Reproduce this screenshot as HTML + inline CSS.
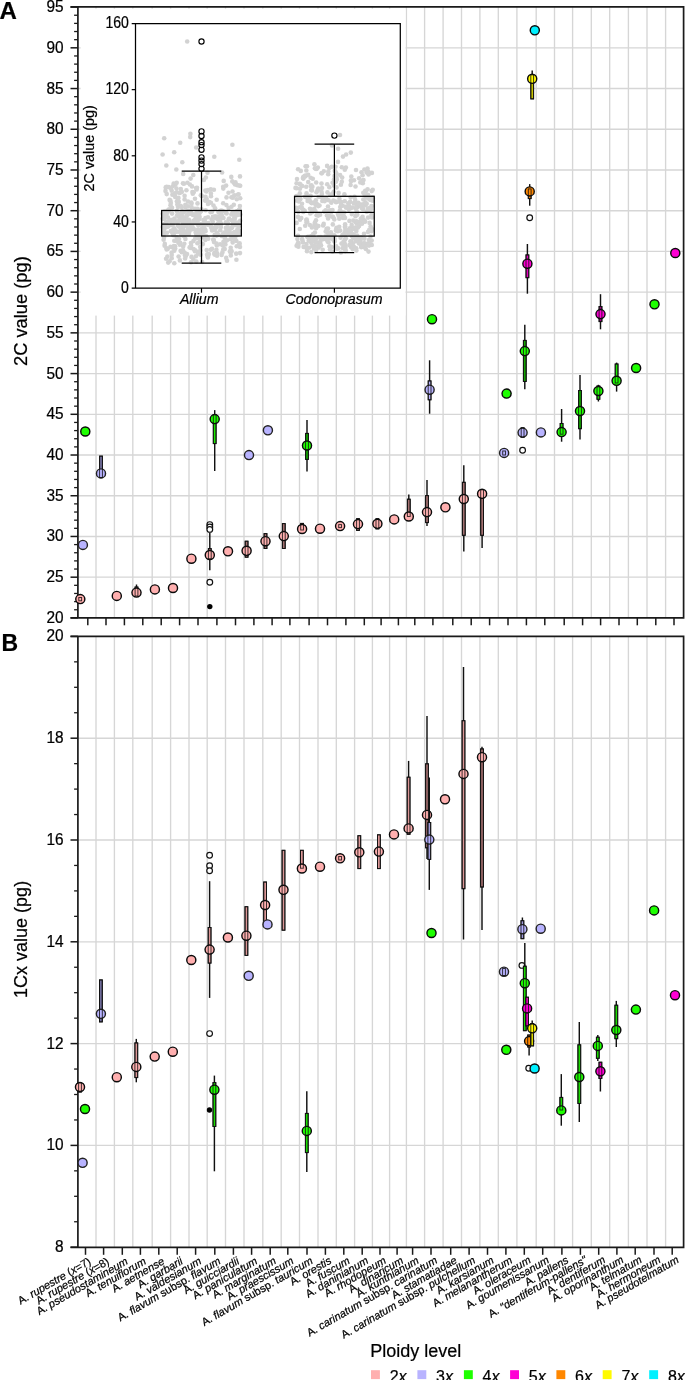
<!DOCTYPE html>
<html><head><meta charset="utf-8"><style>
html,body{margin:0;padding:0;background:#fff;}
body{width:685px;height:1380px;overflow:hidden;}
svg{display:block;will-change:transform;}
</style></head><body>
<svg width="685" height="1380" viewBox="0 0 685 1380">
<style>text{font-family:"Liberation Sans",sans-serif;fill:#000;stroke:#000;stroke-width:0.22px}.tl{font-size:15.9px}.ti{font-size:15.8px}.xl{font-size:11px;font-style:italic}.up{font-style:normal}</style>
<rect width="685" height="1380" fill="#fff"/>
<line x1="96.0" y1="6.8" x2="96.0" y2="617.9" stroke="#d6d6d6" stroke-width="1.35"/>
<line x1="114.4" y1="6.8" x2="114.4" y2="617.9" stroke="#d6d6d6" stroke-width="1.35"/>
<line x1="132.8" y1="6.8" x2="132.8" y2="617.9" stroke="#d6d6d6" stroke-width="1.35"/>
<line x1="152.2" y1="6.8" x2="152.2" y2="617.9" stroke="#d6d6d6" stroke-width="1.35"/>
<line x1="170.6" y1="6.8" x2="170.6" y2="617.9" stroke="#d6d6d6" stroke-width="1.35"/>
<line x1="189.0" y1="6.8" x2="189.0" y2="617.9" stroke="#d6d6d6" stroke-width="1.35"/>
<line x1="207.2" y1="6.8" x2="207.2" y2="617.9" stroke="#d6d6d6" stroke-width="1.35"/>
<line x1="225.5" y1="6.8" x2="225.5" y2="617.9" stroke="#d6d6d6" stroke-width="1.35"/>
<line x1="244.0" y1="6.8" x2="244.0" y2="617.9" stroke="#d6d6d6" stroke-width="1.35"/>
<line x1="262.8" y1="6.8" x2="262.8" y2="617.9" stroke="#d6d6d6" stroke-width="1.35"/>
<line x1="281.2" y1="6.8" x2="281.2" y2="617.9" stroke="#d6d6d6" stroke-width="1.35"/>
<line x1="299.5" y1="6.8" x2="299.5" y2="617.9" stroke="#d6d6d6" stroke-width="1.35"/>
<line x1="318.0" y1="6.8" x2="318.0" y2="617.9" stroke="#d6d6d6" stroke-width="1.35"/>
<line x1="336.3" y1="6.8" x2="336.3" y2="617.9" stroke="#d6d6d6" stroke-width="1.35"/>
<line x1="354.6" y1="6.8" x2="354.6" y2="617.9" stroke="#d6d6d6" stroke-width="1.35"/>
<line x1="372.4" y1="6.8" x2="372.4" y2="617.9" stroke="#d6d6d6" stroke-width="1.35"/>
<line x1="389.6" y1="6.8" x2="389.6" y2="617.9" stroke="#d6d6d6" stroke-width="1.35"/>
<line x1="406.4" y1="6.8" x2="406.4" y2="617.9" stroke="#d6d6d6" stroke-width="1.35"/>
<line x1="424.6" y1="6.8" x2="424.6" y2="617.9" stroke="#d6d6d6" stroke-width="1.35"/>
<line x1="443.1" y1="6.8" x2="443.1" y2="617.9" stroke="#d6d6d6" stroke-width="1.35"/>
<line x1="461.5" y1="6.8" x2="461.5" y2="617.9" stroke="#d6d6d6" stroke-width="1.35"/>
<line x1="479.9" y1="6.8" x2="479.9" y2="617.9" stroke="#d6d6d6" stroke-width="1.35"/>
<line x1="498.3" y1="6.8" x2="498.3" y2="617.9" stroke="#d6d6d6" stroke-width="1.35"/>
<line x1="516.9" y1="6.8" x2="516.9" y2="617.9" stroke="#d6d6d6" stroke-width="1.35"/>
<line x1="536.2" y1="6.8" x2="536.2" y2="617.9" stroke="#d6d6d6" stroke-width="1.35"/>
<line x1="554.5" y1="6.8" x2="554.5" y2="617.9" stroke="#d6d6d6" stroke-width="1.35"/>
<line x1="572.6" y1="6.8" x2="572.6" y2="617.9" stroke="#d6d6d6" stroke-width="1.35"/>
<line x1="591.3" y1="6.8" x2="591.3" y2="617.9" stroke="#d6d6d6" stroke-width="1.35"/>
<line x1="609.7" y1="6.8" x2="609.7" y2="617.9" stroke="#d6d6d6" stroke-width="1.35"/>
<line x1="628.4" y1="6.8" x2="628.4" y2="617.9" stroke="#d6d6d6" stroke-width="1.35"/>
<line x1="647.0" y1="6.8" x2="647.0" y2="617.9" stroke="#d6d6d6" stroke-width="1.35"/>
<line x1="665.6" y1="6.8" x2="665.6" y2="617.9" stroke="#d6d6d6" stroke-width="1.35"/>
<line x1="77.9" y1="577.18" x2="683.6" y2="577.18" stroke="#d6d6d6" stroke-width="1.35"/>
<line x1="77.9" y1="536.46" x2="683.6" y2="536.46" stroke="#d6d6d6" stroke-width="1.35"/>
<line x1="77.9" y1="495.74" x2="683.6" y2="495.74" stroke="#d6d6d6" stroke-width="1.35"/>
<line x1="77.9" y1="455.02" x2="683.6" y2="455.02" stroke="#d6d6d6" stroke-width="1.35"/>
<line x1="77.9" y1="414.30" x2="683.6" y2="414.30" stroke="#d6d6d6" stroke-width="1.35"/>
<line x1="77.9" y1="373.58" x2="683.6" y2="373.58" stroke="#d6d6d6" stroke-width="1.35"/>
<line x1="77.9" y1="332.86" x2="683.6" y2="332.86" stroke="#d6d6d6" stroke-width="1.35"/>
<line x1="77.9" y1="292.14" x2="683.6" y2="292.14" stroke="#d6d6d6" stroke-width="1.35"/>
<line x1="77.9" y1="251.42" x2="683.6" y2="251.42" stroke="#d6d6d6" stroke-width="1.35"/>
<line x1="77.9" y1="210.70" x2="683.6" y2="210.70" stroke="#d6d6d6" stroke-width="1.35"/>
<line x1="77.9" y1="169.98" x2="683.6" y2="169.98" stroke="#d6d6d6" stroke-width="1.35"/>
<line x1="77.9" y1="129.26" x2="683.6" y2="129.26" stroke="#d6d6d6" stroke-width="1.35"/>
<line x1="77.9" y1="88.54" x2="683.6" y2="88.54" stroke="#d6d6d6" stroke-width="1.35"/>
<line x1="77.9" y1="47.82" x2="683.6" y2="47.82" stroke="#d6d6d6" stroke-width="1.35"/>
<rect x="80.6" y="8.6" width="324.9" height="307" fill="#fff"/>
<circle cx="174.3" cy="263.2" r="2.3" fill="#d2d2d2"/>
<circle cx="168.2" cy="262.6" r="2.3" fill="#d2d2d2"/>
<circle cx="191.0" cy="262.3" r="2.3" fill="#d2d2d2"/>
<circle cx="202.1" cy="262.0" r="2.3" fill="#d2d2d2"/>
<circle cx="196.3" cy="261.6" r="2.3" fill="#d2d2d2"/>
<circle cx="169.6" cy="261.2" r="2.3" fill="#d2d2d2"/>
<circle cx="227.0" cy="260.7" r="2.3" fill="#d2d2d2"/>
<circle cx="179.9" cy="260.4" r="2.3" fill="#d2d2d2"/>
<circle cx="236.4" cy="259.8" r="2.3" fill="#d2d2d2"/>
<circle cx="193.4" cy="259.4" r="2.3" fill="#d2d2d2"/>
<circle cx="166.1" cy="258.8" r="2.3" fill="#d2d2d2"/>
<circle cx="185.1" cy="258.5" r="2.3" fill="#d2d2d2"/>
<circle cx="171.7" cy="258.3" r="2.3" fill="#d2d2d2"/>
<circle cx="226.2" cy="257.9" r="2.3" fill="#d2d2d2"/>
<circle cx="207.9" cy="257.5" r="2.3" fill="#d2d2d2"/>
<circle cx="191.5" cy="256.9" r="2.3" fill="#d2d2d2"/>
<circle cx="167.4" cy="256.6" r="2.3" fill="#d2d2d2"/>
<circle cx="178.6" cy="256.5" r="2.3" fill="#d2d2d2"/>
<circle cx="195.9" cy="256.2" r="2.3" fill="#d2d2d2"/>
<circle cx="208.2" cy="256.1" r="2.3" fill="#d2d2d2"/>
<circle cx="185.9" cy="255.9" r="2.3" fill="#d2d2d2"/>
<circle cx="217.0" cy="255.7" r="2.3" fill="#d2d2d2"/>
<circle cx="207.3" cy="255.6" r="2.3" fill="#d2d2d2"/>
<circle cx="230.8" cy="255.4" r="2.3" fill="#d2d2d2"/>
<circle cx="185.0" cy="255.2" r="2.3" fill="#d2d2d2"/>
<circle cx="171.7" cy="255.0" r="2.3" fill="#d2d2d2"/>
<circle cx="221.6" cy="254.9" r="2.3" fill="#d2d2d2"/>
<circle cx="200.6" cy="254.8" r="2.3" fill="#d2d2d2"/>
<circle cx="214.6" cy="254.6" r="2.3" fill="#d2d2d2"/>
<circle cx="207.2" cy="254.3" r="2.3" fill="#d2d2d2"/>
<circle cx="187.0" cy="254.1" r="2.3" fill="#d2d2d2"/>
<circle cx="208.9" cy="254.0" r="2.3" fill="#d2d2d2"/>
<circle cx="198.1" cy="253.8" r="2.3" fill="#d2d2d2"/>
<circle cx="236.2" cy="253.6" r="2.3" fill="#d2d2d2"/>
<circle cx="214.3" cy="253.5" r="2.3" fill="#d2d2d2"/>
<circle cx="217.2" cy="253.4" r="2.3" fill="#d2d2d2"/>
<circle cx="240.0" cy="253.1" r="2.3" fill="#d2d2d2"/>
<circle cx="184.7" cy="252.9" r="2.3" fill="#d2d2d2"/>
<circle cx="214.7" cy="252.8" r="2.3" fill="#d2d2d2"/>
<circle cx="198.5" cy="252.7" r="2.3" fill="#d2d2d2"/>
<circle cx="171.6" cy="252.5" r="2.3" fill="#d2d2d2"/>
<circle cx="222.4" cy="252.4" r="2.3" fill="#d2d2d2"/>
<circle cx="181.8" cy="252.2" r="2.3" fill="#d2d2d2"/>
<circle cx="230.5" cy="251.9" r="2.3" fill="#d2d2d2"/>
<circle cx="197.5" cy="251.8" r="2.3" fill="#d2d2d2"/>
<circle cx="231.4" cy="251.6" r="2.3" fill="#d2d2d2"/>
<circle cx="229.9" cy="251.4" r="2.3" fill="#d2d2d2"/>
<circle cx="194.9" cy="251.3" r="2.3" fill="#d2d2d2"/>
<circle cx="231.5" cy="251.1" r="2.3" fill="#d2d2d2"/>
<circle cx="174.3" cy="250.8" r="2.3" fill="#d2d2d2"/>
<circle cx="180.6" cy="250.8" r="2.3" fill="#d2d2d2"/>
<circle cx="200.3" cy="250.6" r="2.3" fill="#d2d2d2"/>
<circle cx="183.0" cy="250.3" r="2.3" fill="#d2d2d2"/>
<circle cx="195.2" cy="250.3" r="2.3" fill="#d2d2d2"/>
<circle cx="206.7" cy="250.0" r="2.3" fill="#d2d2d2"/>
<circle cx="216.4" cy="249.8" r="2.3" fill="#d2d2d2"/>
<circle cx="210.7" cy="249.7" r="2.3" fill="#d2d2d2"/>
<circle cx="166.7" cy="249.5" r="2.3" fill="#d2d2d2"/>
<circle cx="223.3" cy="249.2" r="2.3" fill="#d2d2d2"/>
<circle cx="224.7" cy="249.1" r="2.3" fill="#d2d2d2"/>
<circle cx="193.6" cy="249.0" r="2.3" fill="#d2d2d2"/>
<circle cx="212.0" cy="248.9" r="2.3" fill="#d2d2d2"/>
<circle cx="167.8" cy="248.7" r="2.3" fill="#d2d2d2"/>
<circle cx="175.2" cy="248.5" r="2.3" fill="#d2d2d2"/>
<circle cx="166.6" cy="248.3" r="2.3" fill="#d2d2d2"/>
<circle cx="174.3" cy="248.2" r="2.3" fill="#d2d2d2"/>
<circle cx="190.9" cy="248.0" r="2.3" fill="#d2d2d2"/>
<circle cx="230.7" cy="247.8" r="2.3" fill="#d2d2d2"/>
<circle cx="174.1" cy="247.6" r="2.3" fill="#d2d2d2"/>
<circle cx="189.6" cy="247.4" r="2.3" fill="#d2d2d2"/>
<circle cx="172.1" cy="247.3" r="2.3" fill="#d2d2d2"/>
<circle cx="240.0" cy="247.0" r="2.3" fill="#d2d2d2"/>
<circle cx="200.2" cy="246.9" r="2.3" fill="#d2d2d2"/>
<circle cx="170.5" cy="246.8" r="2.3" fill="#d2d2d2"/>
<circle cx="183.2" cy="246.6" r="2.3" fill="#d2d2d2"/>
<circle cx="175.1" cy="246.3" r="2.3" fill="#d2d2d2"/>
<circle cx="236.7" cy="246.3" r="2.3" fill="#d2d2d2"/>
<circle cx="173.9" cy="246.0" r="2.3" fill="#d2d2d2"/>
<circle cx="164.6" cy="245.8" r="2.3" fill="#d2d2d2"/>
<circle cx="238.8" cy="245.7" r="2.3" fill="#d2d2d2"/>
<circle cx="216.8" cy="245.4" r="2.3" fill="#d2d2d2"/>
<circle cx="191.1" cy="245.4" r="2.3" fill="#d2d2d2"/>
<circle cx="222.7" cy="245.2" r="2.3" fill="#d2d2d2"/>
<circle cx="223.3" cy="245.0" r="2.3" fill="#d2d2d2"/>
<circle cx="179.9" cy="244.8" r="2.3" fill="#d2d2d2"/>
<circle cx="239.3" cy="244.6" r="2.3" fill="#d2d2d2"/>
<circle cx="225.4" cy="244.4" r="2.3" fill="#d2d2d2"/>
<circle cx="220.2" cy="244.2" r="2.3" fill="#d2d2d2"/>
<circle cx="202.9" cy="244.1" r="2.3" fill="#d2d2d2"/>
<circle cx="164.8" cy="243.9" r="2.3" fill="#d2d2d2"/>
<circle cx="184.3" cy="243.8" r="2.3" fill="#d2d2d2"/>
<circle cx="216.5" cy="243.6" r="2.3" fill="#d2d2d2"/>
<circle cx="197.4" cy="243.3" r="2.3" fill="#d2d2d2"/>
<circle cx="239.6" cy="243.2" r="2.3" fill="#d2d2d2"/>
<circle cx="190.9" cy="243.0" r="2.3" fill="#d2d2d2"/>
<circle cx="180.2" cy="242.9" r="2.3" fill="#d2d2d2"/>
<circle cx="178.4" cy="242.8" r="2.3" fill="#d2d2d2"/>
<circle cx="232.7" cy="242.5" r="2.3" fill="#d2d2d2"/>
<circle cx="199.9" cy="242.3" r="2.3" fill="#d2d2d2"/>
<circle cx="224.9" cy="242.2" r="2.3" fill="#d2d2d2"/>
<circle cx="214.0" cy="242.1" r="2.3" fill="#d2d2d2"/>
<circle cx="223.5" cy="241.8" r="2.3" fill="#d2d2d2"/>
<circle cx="199.8" cy="241.6" r="2.3" fill="#d2d2d2"/>
<circle cx="224.1" cy="241.5" r="2.3" fill="#d2d2d2"/>
<circle cx="225.0" cy="241.3" r="2.3" fill="#d2d2d2"/>
<circle cx="193.4" cy="241.1" r="2.3" fill="#d2d2d2"/>
<circle cx="236.4" cy="241.0" r="2.3" fill="#d2d2d2"/>
<circle cx="175.8" cy="240.8" r="2.3" fill="#d2d2d2"/>
<circle cx="174.3" cy="240.7" r="2.3" fill="#d2d2d2"/>
<circle cx="225.4" cy="240.4" r="2.3" fill="#d2d2d2"/>
<circle cx="227.0" cy="240.3" r="2.3" fill="#d2d2d2"/>
<circle cx="213.8" cy="240.0" r="2.3" fill="#d2d2d2"/>
<circle cx="205.3" cy="239.9" r="2.3" fill="#d2d2d2"/>
<circle cx="163.6" cy="239.8" r="2.3" fill="#d2d2d2"/>
<circle cx="213.2" cy="239.5" r="2.3" fill="#d2d2d2"/>
<circle cx="235.3" cy="239.4" r="2.3" fill="#d2d2d2"/>
<circle cx="230.5" cy="239.2" r="2.3" fill="#d2d2d2"/>
<circle cx="179.0" cy="239.0" r="2.3" fill="#d2d2d2"/>
<circle cx="185.4" cy="238.9" r="2.3" fill="#d2d2d2"/>
<circle cx="208.2" cy="238.7" r="2.3" fill="#d2d2d2"/>
<circle cx="195.2" cy="238.6" r="2.3" fill="#d2d2d2"/>
<circle cx="233.5" cy="238.4" r="2.3" fill="#d2d2d2"/>
<circle cx="198.2" cy="238.2" r="2.3" fill="#d2d2d2"/>
<circle cx="233.0" cy="238.0" r="2.3" fill="#d2d2d2"/>
<circle cx="234.1" cy="237.8" r="2.3" fill="#d2d2d2"/>
<circle cx="204.0" cy="237.7" r="2.3" fill="#d2d2d2"/>
<circle cx="164.0" cy="237.5" r="2.3" fill="#d2d2d2"/>
<circle cx="176.8" cy="237.3" r="2.3" fill="#d2d2d2"/>
<circle cx="224.8" cy="237.2" r="2.3" fill="#d2d2d2"/>
<circle cx="199.4" cy="237.0" r="2.3" fill="#d2d2d2"/>
<circle cx="205.9" cy="236.8" r="2.3" fill="#d2d2d2"/>
<circle cx="202.9" cy="236.6" r="2.3" fill="#d2d2d2"/>
<circle cx="223.7" cy="236.4" r="2.3" fill="#d2d2d2"/>
<circle cx="206.2" cy="236.3" r="2.3" fill="#d2d2d2"/>
<circle cx="184.1" cy="236.1" r="2.3" fill="#d2d2d2"/>
<circle cx="202.1" cy="235.9" r="2.3" fill="#d2d2d2"/>
<circle cx="221.8" cy="235.9" r="2.3" fill="#d2d2d2"/>
<circle cx="197.1" cy="235.7" r="2.3" fill="#d2d2d2"/>
<circle cx="201.9" cy="235.7" r="2.3" fill="#d2d2d2"/>
<circle cx="216.5" cy="235.6" r="2.3" fill="#d2d2d2"/>
<circle cx="204.1" cy="235.5" r="2.3" fill="#d2d2d2"/>
<circle cx="235.9" cy="235.4" r="2.3" fill="#d2d2d2"/>
<circle cx="230.9" cy="235.3" r="2.3" fill="#d2d2d2"/>
<circle cx="182.7" cy="235.2" r="2.3" fill="#d2d2d2"/>
<circle cx="236.1" cy="235.2" r="2.3" fill="#d2d2d2"/>
<circle cx="173.2" cy="235.1" r="2.3" fill="#d2d2d2"/>
<circle cx="197.0" cy="235.0" r="2.3" fill="#d2d2d2"/>
<circle cx="181.3" cy="234.9" r="2.3" fill="#d2d2d2"/>
<circle cx="214.7" cy="234.9" r="2.3" fill="#d2d2d2"/>
<circle cx="232.5" cy="234.7" r="2.3" fill="#d2d2d2"/>
<circle cx="218.4" cy="234.7" r="2.3" fill="#d2d2d2"/>
<circle cx="173.7" cy="234.5" r="2.3" fill="#d2d2d2"/>
<circle cx="238.0" cy="234.4" r="2.3" fill="#d2d2d2"/>
<circle cx="236.8" cy="234.4" r="2.3" fill="#d2d2d2"/>
<circle cx="200.5" cy="234.3" r="2.3" fill="#d2d2d2"/>
<circle cx="227.4" cy="234.2" r="2.3" fill="#d2d2d2"/>
<circle cx="196.2" cy="234.1" r="2.3" fill="#d2d2d2"/>
<circle cx="189.0" cy="234.0" r="2.3" fill="#d2d2d2"/>
<circle cx="187.3" cy="234.0" r="2.3" fill="#d2d2d2"/>
<circle cx="164.0" cy="233.8" r="2.3" fill="#d2d2d2"/>
<circle cx="196.9" cy="233.8" r="2.3" fill="#d2d2d2"/>
<circle cx="188.4" cy="233.7" r="2.3" fill="#d2d2d2"/>
<circle cx="202.5" cy="233.6" r="2.3" fill="#d2d2d2"/>
<circle cx="239.3" cy="233.5" r="2.3" fill="#d2d2d2"/>
<circle cx="238.3" cy="233.4" r="2.3" fill="#d2d2d2"/>
<circle cx="183.2" cy="233.4" r="2.3" fill="#d2d2d2"/>
<circle cx="223.3" cy="233.3" r="2.3" fill="#d2d2d2"/>
<circle cx="172.6" cy="233.2" r="2.3" fill="#d2d2d2"/>
<circle cx="233.6" cy="233.1" r="2.3" fill="#d2d2d2"/>
<circle cx="182.7" cy="232.9" r="2.3" fill="#d2d2d2"/>
<circle cx="234.2" cy="232.9" r="2.3" fill="#d2d2d2"/>
<circle cx="217.1" cy="232.8" r="2.3" fill="#d2d2d2"/>
<circle cx="167.0" cy="232.7" r="2.3" fill="#d2d2d2"/>
<circle cx="195.7" cy="232.6" r="2.3" fill="#d2d2d2"/>
<circle cx="235.7" cy="232.6" r="2.3" fill="#d2d2d2"/>
<circle cx="225.0" cy="232.4" r="2.3" fill="#d2d2d2"/>
<circle cx="229.3" cy="232.4" r="2.3" fill="#d2d2d2"/>
<circle cx="229.8" cy="232.3" r="2.3" fill="#d2d2d2"/>
<circle cx="189.0" cy="232.2" r="2.3" fill="#d2d2d2"/>
<circle cx="234.8" cy="232.1" r="2.3" fill="#d2d2d2"/>
<circle cx="172.6" cy="232.0" r="2.3" fill="#d2d2d2"/>
<circle cx="181.1" cy="231.9" r="2.3" fill="#d2d2d2"/>
<circle cx="175.1" cy="231.9" r="2.3" fill="#d2d2d2"/>
<circle cx="178.2" cy="231.8" r="2.3" fill="#d2d2d2"/>
<circle cx="186.3" cy="231.7" r="2.3" fill="#d2d2d2"/>
<circle cx="185.1" cy="231.5" r="2.3" fill="#d2d2d2"/>
<circle cx="176.4" cy="231.5" r="2.3" fill="#d2d2d2"/>
<circle cx="163.9" cy="231.4" r="2.3" fill="#d2d2d2"/>
<circle cx="163.7" cy="231.3" r="2.3" fill="#d2d2d2"/>
<circle cx="205.5" cy="231.2" r="2.3" fill="#d2d2d2"/>
<circle cx="199.5" cy="231.1" r="2.3" fill="#d2d2d2"/>
<circle cx="170.8" cy="231.0" r="2.3" fill="#d2d2d2"/>
<circle cx="196.2" cy="230.9" r="2.3" fill="#d2d2d2"/>
<circle cx="227.6" cy="230.8" r="2.3" fill="#d2d2d2"/>
<circle cx="202.0" cy="230.8" r="2.3" fill="#d2d2d2"/>
<circle cx="239.1" cy="230.7" r="2.3" fill="#d2d2d2"/>
<circle cx="227.4" cy="230.6" r="2.3" fill="#d2d2d2"/>
<circle cx="212.1" cy="230.5" r="2.3" fill="#d2d2d2"/>
<circle cx="189.6" cy="230.4" r="2.3" fill="#d2d2d2"/>
<circle cx="172.6" cy="230.4" r="2.3" fill="#d2d2d2"/>
<circle cx="220.3" cy="230.3" r="2.3" fill="#d2d2d2"/>
<circle cx="175.2" cy="230.2" r="2.3" fill="#d2d2d2"/>
<circle cx="228.1" cy="230.1" r="2.3" fill="#d2d2d2"/>
<circle cx="214.8" cy="229.9" r="2.3" fill="#d2d2d2"/>
<circle cx="181.4" cy="229.9" r="2.3" fill="#d2d2d2"/>
<circle cx="198.3" cy="229.8" r="2.3" fill="#d2d2d2"/>
<circle cx="197.3" cy="229.7" r="2.3" fill="#d2d2d2"/>
<circle cx="237.5" cy="229.6" r="2.3" fill="#d2d2d2"/>
<circle cx="205.2" cy="229.5" r="2.3" fill="#d2d2d2"/>
<circle cx="237.8" cy="229.5" r="2.3" fill="#d2d2d2"/>
<circle cx="190.3" cy="229.4" r="2.3" fill="#d2d2d2"/>
<circle cx="192.3" cy="229.3" r="2.3" fill="#d2d2d2"/>
<circle cx="201.7" cy="229.2" r="2.3" fill="#d2d2d2"/>
<circle cx="201.9" cy="229.1" r="2.3" fill="#d2d2d2"/>
<circle cx="183.1" cy="229.0" r="2.3" fill="#d2d2d2"/>
<circle cx="193.7" cy="228.9" r="2.3" fill="#d2d2d2"/>
<circle cx="164.3" cy="228.9" r="2.3" fill="#d2d2d2"/>
<circle cx="180.7" cy="228.7" r="2.3" fill="#d2d2d2"/>
<circle cx="203.8" cy="228.6" r="2.3" fill="#d2d2d2"/>
<circle cx="213.8" cy="228.5" r="2.3" fill="#d2d2d2"/>
<circle cx="231.1" cy="228.4" r="2.3" fill="#d2d2d2"/>
<circle cx="187.9" cy="228.4" r="2.3" fill="#d2d2d2"/>
<circle cx="174.2" cy="228.2" r="2.3" fill="#d2d2d2"/>
<circle cx="212.7" cy="228.2" r="2.3" fill="#d2d2d2"/>
<circle cx="227.7" cy="228.2" r="2.3" fill="#d2d2d2"/>
<circle cx="211.4" cy="228.0" r="2.3" fill="#d2d2d2"/>
<circle cx="225.9" cy="227.9" r="2.3" fill="#d2d2d2"/>
<circle cx="203.4" cy="227.9" r="2.3" fill="#d2d2d2"/>
<circle cx="227.6" cy="227.8" r="2.3" fill="#d2d2d2"/>
<circle cx="227.0" cy="227.6" r="2.3" fill="#d2d2d2"/>
<circle cx="232.1" cy="227.6" r="2.3" fill="#d2d2d2"/>
<circle cx="216.6" cy="227.5" r="2.3" fill="#d2d2d2"/>
<circle cx="164.9" cy="227.4" r="2.3" fill="#d2d2d2"/>
<circle cx="190.6" cy="227.4" r="2.3" fill="#d2d2d2"/>
<circle cx="227.7" cy="227.3" r="2.3" fill="#d2d2d2"/>
<circle cx="211.5" cy="227.1" r="2.3" fill="#d2d2d2"/>
<circle cx="215.6" cy="227.0" r="2.3" fill="#d2d2d2"/>
<circle cx="162.8" cy="227.0" r="2.3" fill="#d2d2d2"/>
<circle cx="220.9" cy="226.9" r="2.3" fill="#d2d2d2"/>
<circle cx="204.2" cy="226.8" r="2.3" fill="#d2d2d2"/>
<circle cx="167.7" cy="226.7" r="2.3" fill="#d2d2d2"/>
<circle cx="182.2" cy="226.6" r="2.3" fill="#d2d2d2"/>
<circle cx="183.2" cy="226.6" r="2.3" fill="#d2d2d2"/>
<circle cx="178.5" cy="226.4" r="2.3" fill="#d2d2d2"/>
<circle cx="238.6" cy="226.3" r="2.3" fill="#d2d2d2"/>
<circle cx="192.3" cy="226.3" r="2.3" fill="#d2d2d2"/>
<circle cx="215.8" cy="226.2" r="2.3" fill="#d2d2d2"/>
<circle cx="210.6" cy="226.1" r="2.3" fill="#d2d2d2"/>
<circle cx="168.5" cy="226.0" r="2.3" fill="#d2d2d2"/>
<circle cx="182.3" cy="225.9" r="2.3" fill="#d2d2d2"/>
<circle cx="186.2" cy="225.8" r="2.3" fill="#d2d2d2"/>
<circle cx="163.5" cy="225.7" r="2.3" fill="#d2d2d2"/>
<circle cx="183.5" cy="225.7" r="2.3" fill="#d2d2d2"/>
<circle cx="216.5" cy="225.5" r="2.3" fill="#d2d2d2"/>
<circle cx="185.2" cy="225.5" r="2.3" fill="#d2d2d2"/>
<circle cx="198.7" cy="225.4" r="2.3" fill="#d2d2d2"/>
<circle cx="171.7" cy="225.3" r="2.3" fill="#d2d2d2"/>
<circle cx="178.0" cy="225.2" r="2.3" fill="#d2d2d2"/>
<circle cx="235.5" cy="225.1" r="2.3" fill="#d2d2d2"/>
<circle cx="198.3" cy="225.1" r="2.3" fill="#d2d2d2"/>
<circle cx="238.0" cy="224.9" r="2.3" fill="#d2d2d2"/>
<circle cx="183.5" cy="224.9" r="2.3" fill="#d2d2d2"/>
<circle cx="236.3" cy="224.8" r="2.3" fill="#d2d2d2"/>
<circle cx="207.9" cy="224.7" r="2.3" fill="#d2d2d2"/>
<circle cx="203.4" cy="224.6" r="2.3" fill="#d2d2d2"/>
<circle cx="172.8" cy="224.5" r="2.3" fill="#d2d2d2"/>
<circle cx="202.2" cy="224.4" r="2.3" fill="#d2d2d2"/>
<circle cx="217.4" cy="224.3" r="2.3" fill="#d2d2d2"/>
<circle cx="232.5" cy="224.3" r="2.3" fill="#d2d2d2"/>
<circle cx="164.4" cy="224.1" r="2.3" fill="#d2d2d2"/>
<circle cx="200.9" cy="224.1" r="2.3" fill="#d2d2d2"/>
<circle cx="186.1" cy="224.0" r="2.3" fill="#d2d2d2"/>
<circle cx="189.3" cy="223.9" r="2.3" fill="#d2d2d2"/>
<circle cx="228.0" cy="223.8" r="2.3" fill="#d2d2d2"/>
<circle cx="221.1" cy="223.7" r="2.3" fill="#d2d2d2"/>
<circle cx="171.9" cy="223.5" r="2.3" fill="#d2d2d2"/>
<circle cx="218.1" cy="223.4" r="2.3" fill="#d2d2d2"/>
<circle cx="185.1" cy="223.3" r="2.3" fill="#d2d2d2"/>
<circle cx="193.1" cy="223.3" r="2.3" fill="#d2d2d2"/>
<circle cx="208.5" cy="223.1" r="2.3" fill="#d2d2d2"/>
<circle cx="195.9" cy="223.1" r="2.3" fill="#d2d2d2"/>
<circle cx="166.3" cy="223.0" r="2.3" fill="#d2d2d2"/>
<circle cx="227.6" cy="222.9" r="2.3" fill="#d2d2d2"/>
<circle cx="235.5" cy="222.8" r="2.3" fill="#d2d2d2"/>
<circle cx="183.2" cy="222.7" r="2.3" fill="#d2d2d2"/>
<circle cx="177.3" cy="222.5" r="2.3" fill="#d2d2d2"/>
<circle cx="237.1" cy="222.5" r="2.3" fill="#d2d2d2"/>
<circle cx="225.8" cy="222.3" r="2.3" fill="#d2d2d2"/>
<circle cx="233.7" cy="222.2" r="2.3" fill="#d2d2d2"/>
<circle cx="205.3" cy="222.1" r="2.3" fill="#d2d2d2"/>
<circle cx="166.4" cy="222.0" r="2.3" fill="#d2d2d2"/>
<circle cx="197.7" cy="221.9" r="2.3" fill="#d2d2d2"/>
<circle cx="212.8" cy="221.8" r="2.3" fill="#d2d2d2"/>
<circle cx="166.3" cy="221.8" r="2.3" fill="#d2d2d2"/>
<circle cx="172.4" cy="221.6" r="2.3" fill="#d2d2d2"/>
<circle cx="189.3" cy="221.5" r="2.3" fill="#d2d2d2"/>
<circle cx="220.1" cy="221.5" r="2.3" fill="#d2d2d2"/>
<circle cx="182.8" cy="221.3" r="2.3" fill="#d2d2d2"/>
<circle cx="186.0" cy="221.2" r="2.3" fill="#d2d2d2"/>
<circle cx="193.3" cy="221.1" r="2.3" fill="#d2d2d2"/>
<circle cx="175.1" cy="221.1" r="2.3" fill="#d2d2d2"/>
<circle cx="233.2" cy="221.0" r="2.3" fill="#d2d2d2"/>
<circle cx="179.7" cy="220.8" r="2.3" fill="#d2d2d2"/>
<circle cx="240.2" cy="220.7" r="2.3" fill="#d2d2d2"/>
<circle cx="173.4" cy="220.6" r="2.3" fill="#d2d2d2"/>
<circle cx="169.6" cy="220.6" r="2.3" fill="#d2d2d2"/>
<circle cx="169.6" cy="220.4" r="2.3" fill="#d2d2d2"/>
<circle cx="182.7" cy="220.4" r="2.3" fill="#d2d2d2"/>
<circle cx="231.7" cy="220.2" r="2.3" fill="#d2d2d2"/>
<circle cx="194.7" cy="220.1" r="2.3" fill="#d2d2d2"/>
<circle cx="203.4" cy="220.0" r="2.3" fill="#d2d2d2"/>
<circle cx="188.9" cy="219.9" r="2.3" fill="#d2d2d2"/>
<circle cx="184.1" cy="219.9" r="2.3" fill="#d2d2d2"/>
<circle cx="172.3" cy="219.7" r="2.3" fill="#d2d2d2"/>
<circle cx="211.6" cy="219.6" r="2.3" fill="#d2d2d2"/>
<circle cx="179.3" cy="219.5" r="2.3" fill="#d2d2d2"/>
<circle cx="181.9" cy="219.5" r="2.3" fill="#d2d2d2"/>
<circle cx="197.3" cy="219.3" r="2.3" fill="#d2d2d2"/>
<circle cx="228.7" cy="219.2" r="2.3" fill="#d2d2d2"/>
<circle cx="164.2" cy="219.1" r="2.3" fill="#d2d2d2"/>
<circle cx="217.8" cy="219.1" r="2.3" fill="#d2d2d2"/>
<circle cx="199.4" cy="218.9" r="2.3" fill="#d2d2d2"/>
<circle cx="162.5" cy="218.8" r="2.3" fill="#d2d2d2"/>
<circle cx="234.8" cy="218.7" r="2.3" fill="#d2d2d2"/>
<circle cx="229.2" cy="218.6" r="2.3" fill="#d2d2d2"/>
<circle cx="181.9" cy="218.5" r="2.3" fill="#d2d2d2"/>
<circle cx="174.5" cy="218.5" r="2.3" fill="#d2d2d2"/>
<circle cx="215.7" cy="218.3" r="2.3" fill="#d2d2d2"/>
<circle cx="218.8" cy="218.2" r="2.3" fill="#d2d2d2"/>
<circle cx="222.2" cy="218.1" r="2.3" fill="#d2d2d2"/>
<circle cx="205.5" cy="218.0" r="2.3" fill="#d2d2d2"/>
<circle cx="223.5" cy="218.0" r="2.3" fill="#d2d2d2"/>
<circle cx="234.3" cy="217.8" r="2.3" fill="#d2d2d2"/>
<circle cx="186.2" cy="217.7" r="2.3" fill="#d2d2d2"/>
<circle cx="182.1" cy="217.7" r="2.3" fill="#d2d2d2"/>
<circle cx="217.0" cy="217.5" r="2.3" fill="#d2d2d2"/>
<circle cx="168.0" cy="217.5" r="2.3" fill="#d2d2d2"/>
<circle cx="208.0" cy="217.3" r="2.3" fill="#d2d2d2"/>
<circle cx="179.9" cy="217.2" r="2.3" fill="#d2d2d2"/>
<circle cx="163.3" cy="217.1" r="2.3" fill="#d2d2d2"/>
<circle cx="198.4" cy="217.0" r="2.3" fill="#d2d2d2"/>
<circle cx="212.8" cy="216.9" r="2.3" fill="#d2d2d2"/>
<circle cx="199.6" cy="216.8" r="2.3" fill="#d2d2d2"/>
<circle cx="181.8" cy="216.7" r="2.3" fill="#d2d2d2"/>
<circle cx="217.5" cy="216.6" r="2.3" fill="#d2d2d2"/>
<circle cx="164.2" cy="216.5" r="2.3" fill="#d2d2d2"/>
<circle cx="215.1" cy="216.4" r="2.3" fill="#d2d2d2"/>
<circle cx="182.6" cy="216.3" r="2.3" fill="#d2d2d2"/>
<circle cx="234.7" cy="216.2" r="2.3" fill="#d2d2d2"/>
<circle cx="165.2" cy="216.1" r="2.3" fill="#d2d2d2"/>
<circle cx="195.3" cy="216.0" r="2.3" fill="#d2d2d2"/>
<circle cx="178.0" cy="215.9" r="2.3" fill="#d2d2d2"/>
<circle cx="220.2" cy="215.8" r="2.3" fill="#d2d2d2"/>
<circle cx="178.5" cy="215.7" r="2.3" fill="#d2d2d2"/>
<circle cx="186.8" cy="215.6" r="2.3" fill="#d2d2d2"/>
<circle cx="180.5" cy="215.5" r="2.3" fill="#d2d2d2"/>
<circle cx="221.8" cy="215.4" r="2.3" fill="#d2d2d2"/>
<circle cx="236.8" cy="215.3" r="2.3" fill="#d2d2d2"/>
<circle cx="177.1" cy="215.2" r="2.3" fill="#d2d2d2"/>
<circle cx="195.0" cy="215.1" r="2.3" fill="#d2d2d2"/>
<circle cx="236.5" cy="215.0" r="2.3" fill="#d2d2d2"/>
<circle cx="193.2" cy="214.9" r="2.3" fill="#d2d2d2"/>
<circle cx="238.5" cy="214.8" r="2.3" fill="#d2d2d2"/>
<circle cx="166.5" cy="214.7" r="2.3" fill="#d2d2d2"/>
<circle cx="193.2" cy="214.7" r="2.3" fill="#d2d2d2"/>
<circle cx="231.4" cy="214.5" r="2.3" fill="#d2d2d2"/>
<circle cx="240.3" cy="214.4" r="2.3" fill="#d2d2d2"/>
<circle cx="188.2" cy="214.3" r="2.3" fill="#d2d2d2"/>
<circle cx="235.5" cy="214.2" r="2.3" fill="#d2d2d2"/>
<circle cx="165.0" cy="214.1" r="2.3" fill="#d2d2d2"/>
<circle cx="192.0" cy="214.0" r="2.3" fill="#d2d2d2"/>
<circle cx="188.4" cy="213.9" r="2.3" fill="#d2d2d2"/>
<circle cx="162.7" cy="213.8" r="2.3" fill="#d2d2d2"/>
<circle cx="189.9" cy="213.7" r="2.3" fill="#d2d2d2"/>
<circle cx="172.1" cy="213.6" r="2.3" fill="#d2d2d2"/>
<circle cx="178.7" cy="213.5" r="2.3" fill="#d2d2d2"/>
<circle cx="226.6" cy="213.4" r="2.3" fill="#d2d2d2"/>
<circle cx="196.2" cy="213.3" r="2.3" fill="#d2d2d2"/>
<circle cx="199.4" cy="213.2" r="2.3" fill="#d2d2d2"/>
<circle cx="234.2" cy="213.1" r="2.3" fill="#d2d2d2"/>
<circle cx="190.9" cy="213.0" r="2.3" fill="#d2d2d2"/>
<circle cx="164.9" cy="212.9" r="2.3" fill="#d2d2d2"/>
<circle cx="225.8" cy="212.8" r="2.3" fill="#d2d2d2"/>
<circle cx="165.7" cy="212.7" r="2.3" fill="#d2d2d2"/>
<circle cx="167.4" cy="212.6" r="2.3" fill="#d2d2d2"/>
<circle cx="182.5" cy="212.5" r="2.3" fill="#d2d2d2"/>
<circle cx="232.6" cy="212.4" r="2.3" fill="#d2d2d2"/>
<circle cx="183.7" cy="212.3" r="2.3" fill="#d2d2d2"/>
<circle cx="210.6" cy="212.2" r="2.3" fill="#d2d2d2"/>
<circle cx="218.4" cy="212.1" r="2.3" fill="#d2d2d2"/>
<circle cx="184.0" cy="212.0" r="2.3" fill="#d2d2d2"/>
<circle cx="221.4" cy="211.9" r="2.3" fill="#d2d2d2"/>
<circle cx="212.0" cy="211.8" r="2.3" fill="#d2d2d2"/>
<circle cx="164.4" cy="211.6" r="2.3" fill="#d2d2d2"/>
<circle cx="199.6" cy="211.6" r="2.3" fill="#d2d2d2"/>
<circle cx="236.9" cy="211.4" r="2.3" fill="#d2d2d2"/>
<circle cx="182.1" cy="211.4" r="2.3" fill="#d2d2d2"/>
<circle cx="201.0" cy="211.3" r="2.3" fill="#d2d2d2"/>
<circle cx="176.8" cy="211.1" r="2.3" fill="#d2d2d2"/>
<circle cx="220.1" cy="211.1" r="2.3" fill="#d2d2d2"/>
<circle cx="222.8" cy="211.0" r="2.3" fill="#d2d2d2"/>
<circle cx="188.1" cy="210.9" r="2.3" fill="#d2d2d2"/>
<circle cx="190.7" cy="210.8" r="2.3" fill="#d2d2d2"/>
<circle cx="168.7" cy="210.7" r="2.3" fill="#d2d2d2"/>
<circle cx="221.2" cy="210.6" r="2.3" fill="#d2d2d2"/>
<circle cx="167.5" cy="210.5" r="2.3" fill="#d2d2d2"/>
<circle cx="205.6" cy="210.3" r="2.3" fill="#d2d2d2"/>
<circle cx="239.0" cy="209.9" r="2.3" fill="#d2d2d2"/>
<circle cx="239.6" cy="209.5" r="2.3" fill="#d2d2d2"/>
<circle cx="169.1" cy="209.4" r="2.3" fill="#d2d2d2"/>
<circle cx="201.4" cy="209.2" r="2.3" fill="#d2d2d2"/>
<circle cx="197.4" cy="208.8" r="2.3" fill="#d2d2d2"/>
<circle cx="195.0" cy="208.7" r="2.3" fill="#d2d2d2"/>
<circle cx="215.1" cy="208.3" r="2.3" fill="#d2d2d2"/>
<circle cx="228.6" cy="208.0" r="2.3" fill="#d2d2d2"/>
<circle cx="172.0" cy="207.8" r="2.3" fill="#d2d2d2"/>
<circle cx="185.4" cy="207.5" r="2.3" fill="#d2d2d2"/>
<circle cx="191.6" cy="207.3" r="2.3" fill="#d2d2d2"/>
<circle cx="178.0" cy="207.0" r="2.3" fill="#d2d2d2"/>
<circle cx="181.6" cy="206.9" r="2.3" fill="#d2d2d2"/>
<circle cx="231.5" cy="206.7" r="2.3" fill="#d2d2d2"/>
<circle cx="188.0" cy="206.3" r="2.3" fill="#d2d2d2"/>
<circle cx="239.9" cy="206.1" r="2.3" fill="#d2d2d2"/>
<circle cx="180.5" cy="205.8" r="2.3" fill="#d2d2d2"/>
<circle cx="213.5" cy="205.5" r="2.3" fill="#d2d2d2"/>
<circle cx="170.5" cy="205.2" r="2.3" fill="#d2d2d2"/>
<circle cx="226.4" cy="205.1" r="2.3" fill="#d2d2d2"/>
<circle cx="233.8" cy="204.7" r="2.3" fill="#d2d2d2"/>
<circle cx="185.4" cy="204.7" r="2.3" fill="#d2d2d2"/>
<circle cx="177.3" cy="204.4" r="2.3" fill="#d2d2d2"/>
<circle cx="208.0" cy="203.9" r="2.3" fill="#d2d2d2"/>
<circle cx="191.5" cy="203.7" r="2.3" fill="#d2d2d2"/>
<circle cx="197.5" cy="203.4" r="2.3" fill="#d2d2d2"/>
<circle cx="223.2" cy="203.3" r="2.3" fill="#d2d2d2"/>
<circle cx="170.8" cy="202.9" r="2.3" fill="#d2d2d2"/>
<circle cx="210.9" cy="202.7" r="2.3" fill="#d2d2d2"/>
<circle cx="191.3" cy="202.6" r="2.3" fill="#d2d2d2"/>
<circle cx="178.4" cy="202.3" r="2.3" fill="#d2d2d2"/>
<circle cx="209.3" cy="202.0" r="2.3" fill="#d2d2d2"/>
<circle cx="178.4" cy="201.7" r="2.3" fill="#d2d2d2"/>
<circle cx="188.0" cy="201.6" r="2.3" fill="#d2d2d2"/>
<circle cx="176.9" cy="201.2" r="2.3" fill="#d2d2d2"/>
<circle cx="178.4" cy="201.0" r="2.3" fill="#d2d2d2"/>
<circle cx="205.2" cy="200.6" r="2.3" fill="#d2d2d2"/>
<circle cx="170.4" cy="200.6" r="2.3" fill="#d2d2d2"/>
<circle cx="205.4" cy="200.2" r="2.3" fill="#d2d2d2"/>
<circle cx="169.6" cy="199.9" r="2.3" fill="#d2d2d2"/>
<circle cx="216.7" cy="199.8" r="2.3" fill="#d2d2d2"/>
<circle cx="184.6" cy="199.4" r="2.3" fill="#d2d2d2"/>
<circle cx="236.8" cy="199.2" r="2.3" fill="#d2d2d2"/>
<circle cx="206.7" cy="199.0" r="2.3" fill="#d2d2d2"/>
<circle cx="195.0" cy="198.7" r="2.3" fill="#d2d2d2"/>
<circle cx="240.2" cy="198.3" r="2.3" fill="#d2d2d2"/>
<circle cx="177.9" cy="198.2" r="2.3" fill="#d2d2d2"/>
<circle cx="178.4" cy="197.8" r="2.3" fill="#d2d2d2"/>
<circle cx="232.8" cy="197.8" r="2.3" fill="#d2d2d2"/>
<circle cx="226.5" cy="197.4" r="2.3" fill="#d2d2d2"/>
<circle cx="231.4" cy="197.2" r="2.3" fill="#d2d2d2"/>
<circle cx="175.2" cy="196.9" r="2.3" fill="#d2d2d2"/>
<circle cx="205.5" cy="196.7" r="2.3" fill="#d2d2d2"/>
<circle cx="233.5" cy="196.3" r="2.3" fill="#d2d2d2"/>
<circle cx="211.0" cy="196.2" r="2.3" fill="#d2d2d2"/>
<circle cx="201.8" cy="195.9" r="2.3" fill="#d2d2d2"/>
<circle cx="184.6" cy="195.7" r="2.3" fill="#d2d2d2"/>
<circle cx="234.7" cy="195.3" r="2.3" fill="#d2d2d2"/>
<circle cx="200.8" cy="195.2" r="2.3" fill="#d2d2d2"/>
<circle cx="237.9" cy="194.8" r="2.3" fill="#d2d2d2"/>
<circle cx="172.4" cy="194.7" r="2.3" fill="#d2d2d2"/>
<circle cx="238.6" cy="194.2" r="2.3" fill="#d2d2d2"/>
<circle cx="166.7" cy="194.1" r="2.3" fill="#d2d2d2"/>
<circle cx="192.8" cy="193.7" r="2.3" fill="#d2d2d2"/>
<circle cx="210.9" cy="193.4" r="2.3" fill="#d2d2d2"/>
<circle cx="175.0" cy="193.2" r="2.3" fill="#d2d2d2"/>
<circle cx="179.8" cy="193.0" r="2.3" fill="#d2d2d2"/>
<circle cx="228.5" cy="192.8" r="2.3" fill="#d2d2d2"/>
<circle cx="176.8" cy="192.4" r="2.3" fill="#d2d2d2"/>
<circle cx="193.7" cy="192.3" r="2.3" fill="#d2d2d2"/>
<circle cx="192.4" cy="192.0" r="2.3" fill="#d2d2d2"/>
<circle cx="181.8" cy="191.9" r="2.3" fill="#d2d2d2"/>
<circle cx="232.5" cy="191.5" r="2.3" fill="#d2d2d2"/>
<circle cx="206.4" cy="191.4" r="2.3" fill="#d2d2d2"/>
<circle cx="165.5" cy="190.9" r="2.3" fill="#d2d2d2"/>
<circle cx="171.7" cy="190.7" r="2.3" fill="#d2d2d2"/>
<circle cx="205.4" cy="190.5" r="2.3" fill="#d2d2d2"/>
<circle cx="186.4" cy="190.2" r="2.3" fill="#d2d2d2"/>
<circle cx="207.9" cy="190.0" r="2.3" fill="#d2d2d2"/>
<circle cx="213.9" cy="189.7" r="2.3" fill="#d2d2d2"/>
<circle cx="196.7" cy="189.5" r="2.3" fill="#d2d2d2"/>
<circle cx="210.8" cy="189.3" r="2.3" fill="#d2d2d2"/>
<circle cx="180.8" cy="189.0" r="2.3" fill="#d2d2d2"/>
<circle cx="223.3" cy="188.6" r="2.3" fill="#d2d2d2"/>
<circle cx="176.5" cy="188.5" r="2.3" fill="#d2d2d2"/>
<circle cx="170.9" cy="188.2" r="2.3" fill="#d2d2d2"/>
<circle cx="196.1" cy="188.0" r="2.3" fill="#d2d2d2"/>
<circle cx="197.0" cy="187.8" r="2.3" fill="#d2d2d2"/>
<circle cx="165.7" cy="187.4" r="2.3" fill="#d2d2d2"/>
<circle cx="168.9" cy="187.1" r="2.3" fill="#d2d2d2"/>
<circle cx="223.2" cy="186.8" r="2.3" fill="#d2d2d2"/>
<circle cx="166.7" cy="186.7" r="2.3" fill="#d2d2d2"/>
<circle cx="192.0" cy="186.4" r="2.3" fill="#d2d2d2"/>
<circle cx="173.1" cy="186.0" r="2.3" fill="#d2d2d2"/>
<circle cx="240.2" cy="185.8" r="2.3" fill="#d2d2d2"/>
<circle cx="226.1" cy="185.6" r="2.3" fill="#d2d2d2"/>
<circle cx="239.1" cy="185.5" r="2.3" fill="#d2d2d2"/>
<circle cx="237.1" cy="185.1" r="2.3" fill="#d2d2d2"/>
<circle cx="175.4" cy="184.8" r="2.3" fill="#d2d2d2"/>
<circle cx="235.1" cy="184.5" r="2.3" fill="#d2d2d2"/>
<circle cx="189.9" cy="184.5" r="2.3" fill="#d2d2d2"/>
<circle cx="174.9" cy="184.0" r="2.3" fill="#d2d2d2"/>
<circle cx="183.9" cy="183.7" r="2.3" fill="#d2d2d2"/>
<circle cx="173.7" cy="183.5" r="2.3" fill="#d2d2d2"/>
<circle cx="234.3" cy="183.3" r="2.3" fill="#d2d2d2"/>
<circle cx="183.0" cy="183.2" r="2.3" fill="#d2d2d2"/>
<circle cx="187.4" cy="182.8" r="2.3" fill="#d2d2d2"/>
<circle cx="176.7" cy="182.7" r="2.3" fill="#d2d2d2"/>
<circle cx="235.5" cy="182.4" r="2.3" fill="#d2d2d2"/>
<circle cx="232.3" cy="181.4" r="2.3" fill="#d2d2d2"/>
<circle cx="223.7" cy="180.9" r="2.3" fill="#d2d2d2"/>
<circle cx="203.9" cy="180.0" r="2.3" fill="#d2d2d2"/>
<circle cx="190.6" cy="178.6" r="2.3" fill="#d2d2d2"/>
<circle cx="205.8" cy="177.5" r="2.3" fill="#d2d2d2"/>
<circle cx="231.3" cy="176.9" r="2.3" fill="#d2d2d2"/>
<circle cx="240.0" cy="176.4" r="2.3" fill="#d2d2d2"/>
<circle cx="193.3" cy="175.0" r="2.3" fill="#d2d2d2"/>
<circle cx="183.2" cy="173.9" r="2.3" fill="#d2d2d2"/>
<circle cx="207.5" cy="172.8" r="2.3" fill="#d2d2d2"/>
<circle cx="222.1" cy="172.5" r="2.3" fill="#d2d2d2"/>
<circle cx="176.3" cy="169.5" r="2.3" fill="#d2d2d2"/>
<circle cx="166.3" cy="165.5" r="2.3" fill="#d2d2d2"/>
<circle cx="182.3" cy="162.2" r="2.3" fill="#d2d2d2"/>
<circle cx="239.3" cy="159.7" r="2.3" fill="#d2d2d2"/>
<circle cx="214.3" cy="156.8" r="2.3" fill="#d2d2d2"/>
<circle cx="162.6" cy="154.5" r="2.3" fill="#d2d2d2"/>
<circle cx="174.2" cy="152.3" r="2.3" fill="#d2d2d2"/>
<circle cx="196.2" cy="147.5" r="2.3" fill="#d2d2d2"/>
<circle cx="232.4" cy="144.7" r="2.3" fill="#d2d2d2"/>
<circle cx="180.2" cy="142.8" r="2.3" fill="#d2d2d2"/>
<circle cx="164.2" cy="138.2" r="2.3" fill="#d2d2d2"/>
<circle cx="190.2" cy="137.1" r="2.3" fill="#d2d2d2"/>
<circle cx="190.4" cy="133.7" r="2.3" fill="#d2d2d2"/>
<circle cx="340.9" cy="252.5" r="2.3" fill="#d2d2d2"/>
<circle cx="311.3" cy="252.1" r="2.3" fill="#d2d2d2"/>
<circle cx="332.4" cy="251.8" r="2.3" fill="#d2d2d2"/>
<circle cx="368.5" cy="251.6" r="2.3" fill="#d2d2d2"/>
<circle cx="307.0" cy="251.3" r="2.3" fill="#d2d2d2"/>
<circle cx="345.2" cy="251.1" r="2.3" fill="#d2d2d2"/>
<circle cx="356.4" cy="250.6" r="2.3" fill="#d2d2d2"/>
<circle cx="316.0" cy="250.4" r="2.3" fill="#d2d2d2"/>
<circle cx="345.7" cy="250.2" r="2.3" fill="#d2d2d2"/>
<circle cx="322.7" cy="249.8" r="2.3" fill="#d2d2d2"/>
<circle cx="330.0" cy="249.5" r="2.3" fill="#d2d2d2"/>
<circle cx="352.6" cy="249.1" r="2.3" fill="#d2d2d2"/>
<circle cx="365.9" cy="249.0" r="2.3" fill="#d2d2d2"/>
<circle cx="336.9" cy="248.8" r="2.3" fill="#d2d2d2"/>
<circle cx="313.9" cy="248.4" r="2.3" fill="#d2d2d2"/>
<circle cx="356.2" cy="248.3" r="2.3" fill="#d2d2d2"/>
<circle cx="338.4" cy="248.2" r="2.3" fill="#d2d2d2"/>
<circle cx="306.5" cy="248.0" r="2.3" fill="#d2d2d2"/>
<circle cx="342.8" cy="248.0" r="2.3" fill="#d2d2d2"/>
<circle cx="345.4" cy="247.8" r="2.3" fill="#d2d2d2"/>
<circle cx="309.0" cy="247.7" r="2.3" fill="#d2d2d2"/>
<circle cx="318.8" cy="247.6" r="2.3" fill="#d2d2d2"/>
<circle cx="364.8" cy="247.5" r="2.3" fill="#d2d2d2"/>
<circle cx="351.2" cy="247.3" r="2.3" fill="#d2d2d2"/>
<circle cx="361.3" cy="247.3" r="2.3" fill="#d2d2d2"/>
<circle cx="331.7" cy="247.1" r="2.3" fill="#d2d2d2"/>
<circle cx="330.7" cy="247.0" r="2.3" fill="#d2d2d2"/>
<circle cx="303.6" cy="246.9" r="2.3" fill="#d2d2d2"/>
<circle cx="298.4" cy="246.8" r="2.3" fill="#d2d2d2"/>
<circle cx="353.9" cy="246.7" r="2.3" fill="#d2d2d2"/>
<circle cx="361.3" cy="246.5" r="2.3" fill="#d2d2d2"/>
<circle cx="316.1" cy="246.4" r="2.3" fill="#d2d2d2"/>
<circle cx="329.4" cy="246.3" r="2.3" fill="#d2d2d2"/>
<circle cx="336.2" cy="246.2" r="2.3" fill="#d2d2d2"/>
<circle cx="345.5" cy="246.1" r="2.3" fill="#d2d2d2"/>
<circle cx="312.3" cy="245.9" r="2.3" fill="#d2d2d2"/>
<circle cx="296.6" cy="245.8" r="2.3" fill="#d2d2d2"/>
<circle cx="313.8" cy="245.8" r="2.3" fill="#d2d2d2"/>
<circle cx="369.1" cy="245.6" r="2.3" fill="#d2d2d2"/>
<circle cx="320.9" cy="245.5" r="2.3" fill="#d2d2d2"/>
<circle cx="321.0" cy="245.3" r="2.3" fill="#d2d2d2"/>
<circle cx="366.2" cy="245.3" r="2.3" fill="#d2d2d2"/>
<circle cx="349.4" cy="245.1" r="2.3" fill="#d2d2d2"/>
<circle cx="371.8" cy="245.0" r="2.3" fill="#d2d2d2"/>
<circle cx="360.9" cy="244.9" r="2.3" fill="#d2d2d2"/>
<circle cx="362.3" cy="244.8" r="2.3" fill="#d2d2d2"/>
<circle cx="351.9" cy="244.7" r="2.3" fill="#d2d2d2"/>
<circle cx="319.4" cy="244.6" r="2.3" fill="#d2d2d2"/>
<circle cx="344.0" cy="244.5" r="2.3" fill="#d2d2d2"/>
<circle cx="366.4" cy="244.4" r="2.3" fill="#d2d2d2"/>
<circle cx="297.5" cy="244.3" r="2.3" fill="#d2d2d2"/>
<circle cx="367.9" cy="244.2" r="2.3" fill="#d2d2d2"/>
<circle cx="306.5" cy="244.0" r="2.3" fill="#d2d2d2"/>
<circle cx="298.6" cy="243.9" r="2.3" fill="#d2d2d2"/>
<circle cx="344.8" cy="243.7" r="2.3" fill="#d2d2d2"/>
<circle cx="352.9" cy="243.6" r="2.3" fill="#d2d2d2"/>
<circle cx="341.5" cy="243.6" r="2.3" fill="#d2d2d2"/>
<circle cx="359.2" cy="243.4" r="2.3" fill="#d2d2d2"/>
<circle cx="364.9" cy="243.3" r="2.3" fill="#d2d2d2"/>
<circle cx="363.1" cy="243.2" r="2.3" fill="#d2d2d2"/>
<circle cx="369.1" cy="243.0" r="2.3" fill="#d2d2d2"/>
<circle cx="311.4" cy="243.0" r="2.3" fill="#d2d2d2"/>
<circle cx="298.1" cy="242.9" r="2.3" fill="#d2d2d2"/>
<circle cx="358.7" cy="242.7" r="2.3" fill="#d2d2d2"/>
<circle cx="359.8" cy="242.6" r="2.3" fill="#d2d2d2"/>
<circle cx="317.8" cy="242.5" r="2.3" fill="#d2d2d2"/>
<circle cx="303.0" cy="242.4" r="2.3" fill="#d2d2d2"/>
<circle cx="311.4" cy="242.2" r="2.3" fill="#d2d2d2"/>
<circle cx="328.5" cy="242.2" r="2.3" fill="#d2d2d2"/>
<circle cx="315.4" cy="242.1" r="2.3" fill="#d2d2d2"/>
<circle cx="351.2" cy="241.9" r="2.3" fill="#d2d2d2"/>
<circle cx="320.4" cy="241.8" r="2.3" fill="#d2d2d2"/>
<circle cx="334.7" cy="241.6" r="2.3" fill="#d2d2d2"/>
<circle cx="343.6" cy="241.5" r="2.3" fill="#d2d2d2"/>
<circle cx="327.6" cy="241.5" r="2.3" fill="#d2d2d2"/>
<circle cx="355.7" cy="241.3" r="2.3" fill="#d2d2d2"/>
<circle cx="350.4" cy="241.2" r="2.3" fill="#d2d2d2"/>
<circle cx="312.3" cy="241.1" r="2.3" fill="#d2d2d2"/>
<circle cx="302.5" cy="240.9" r="2.3" fill="#d2d2d2"/>
<circle cx="308.7" cy="240.8" r="2.3" fill="#d2d2d2"/>
<circle cx="311.2" cy="240.8" r="2.3" fill="#d2d2d2"/>
<circle cx="371.7" cy="240.6" r="2.3" fill="#d2d2d2"/>
<circle cx="333.7" cy="240.6" r="2.3" fill="#d2d2d2"/>
<circle cx="357.5" cy="240.4" r="2.3" fill="#d2d2d2"/>
<circle cx="334.0" cy="240.3" r="2.3" fill="#d2d2d2"/>
<circle cx="360.3" cy="240.2" r="2.3" fill="#d2d2d2"/>
<circle cx="369.0" cy="240.1" r="2.3" fill="#d2d2d2"/>
<circle cx="312.1" cy="240.0" r="2.3" fill="#d2d2d2"/>
<circle cx="334.3" cy="239.8" r="2.3" fill="#d2d2d2"/>
<circle cx="345.0" cy="239.8" r="2.3" fill="#d2d2d2"/>
<circle cx="356.9" cy="239.6" r="2.3" fill="#d2d2d2"/>
<circle cx="356.8" cy="239.5" r="2.3" fill="#d2d2d2"/>
<circle cx="323.1" cy="239.3" r="2.3" fill="#d2d2d2"/>
<circle cx="326.2" cy="239.3" r="2.3" fill="#d2d2d2"/>
<circle cx="302.1" cy="239.1" r="2.3" fill="#d2d2d2"/>
<circle cx="297.4" cy="239.0" r="2.3" fill="#d2d2d2"/>
<circle cx="315.9" cy="238.9" r="2.3" fill="#d2d2d2"/>
<circle cx="334.5" cy="238.7" r="2.3" fill="#d2d2d2"/>
<circle cx="364.4" cy="238.7" r="2.3" fill="#d2d2d2"/>
<circle cx="331.4" cy="238.6" r="2.3" fill="#d2d2d2"/>
<circle cx="354.2" cy="238.4" r="2.3" fill="#d2d2d2"/>
<circle cx="345.8" cy="238.3" r="2.3" fill="#d2d2d2"/>
<circle cx="320.9" cy="238.2" r="2.3" fill="#d2d2d2"/>
<circle cx="361.2" cy="238.1" r="2.3" fill="#d2d2d2"/>
<circle cx="353.3" cy="237.9" r="2.3" fill="#d2d2d2"/>
<circle cx="329.6" cy="237.9" r="2.3" fill="#d2d2d2"/>
<circle cx="340.6" cy="237.7" r="2.3" fill="#d2d2d2"/>
<circle cx="331.4" cy="237.7" r="2.3" fill="#d2d2d2"/>
<circle cx="314.0" cy="237.5" r="2.3" fill="#d2d2d2"/>
<circle cx="318.9" cy="237.4" r="2.3" fill="#d2d2d2"/>
<circle cx="361.2" cy="237.2" r="2.3" fill="#d2d2d2"/>
<circle cx="307.6" cy="237.2" r="2.3" fill="#d2d2d2"/>
<circle cx="320.9" cy="237.1" r="2.3" fill="#d2d2d2"/>
<circle cx="308.0" cy="236.9" r="2.3" fill="#d2d2d2"/>
<circle cx="310.2" cy="236.8" r="2.3" fill="#d2d2d2"/>
<circle cx="352.2" cy="236.6" r="2.3" fill="#d2d2d2"/>
<circle cx="370.5" cy="236.6" r="2.3" fill="#d2d2d2"/>
<circle cx="325.4" cy="236.5" r="2.3" fill="#d2d2d2"/>
<circle cx="357.4" cy="236.3" r="2.3" fill="#d2d2d2"/>
<circle cx="329.3" cy="236.2" r="2.3" fill="#d2d2d2"/>
<circle cx="345.2" cy="236.1" r="2.3" fill="#d2d2d2"/>
<circle cx="311.5" cy="236.0" r="2.3" fill="#d2d2d2"/>
<circle cx="298.0" cy="235.7" r="2.3" fill="#d2d2d2"/>
<circle cx="357.1" cy="235.5" r="2.3" fill="#d2d2d2"/>
<circle cx="334.4" cy="235.2" r="2.3" fill="#d2d2d2"/>
<circle cx="331.5" cy="235.1" r="2.3" fill="#d2d2d2"/>
<circle cx="342.5" cy="235.0" r="2.3" fill="#d2d2d2"/>
<circle cx="353.2" cy="234.7" r="2.3" fill="#d2d2d2"/>
<circle cx="328.9" cy="234.4" r="2.3" fill="#d2d2d2"/>
<circle cx="353.8" cy="234.3" r="2.3" fill="#d2d2d2"/>
<circle cx="313.2" cy="234.1" r="2.3" fill="#d2d2d2"/>
<circle cx="364.0" cy="233.8" r="2.3" fill="#d2d2d2"/>
<circle cx="350.0" cy="233.6" r="2.3" fill="#d2d2d2"/>
<circle cx="348.4" cy="233.4" r="2.3" fill="#d2d2d2"/>
<circle cx="330.8" cy="233.3" r="2.3" fill="#d2d2d2"/>
<circle cx="344.4" cy="233.1" r="2.3" fill="#d2d2d2"/>
<circle cx="328.1" cy="233.0" r="2.3" fill="#d2d2d2"/>
<circle cx="351.0" cy="232.6" r="2.3" fill="#d2d2d2"/>
<circle cx="314.9" cy="232.5" r="2.3" fill="#d2d2d2"/>
<circle cx="330.9" cy="232.3" r="2.3" fill="#d2d2d2"/>
<circle cx="327.3" cy="232.1" r="2.3" fill="#d2d2d2"/>
<circle cx="368.0" cy="231.9" r="2.3" fill="#d2d2d2"/>
<circle cx="346.5" cy="231.8" r="2.3" fill="#d2d2d2"/>
<circle cx="325.7" cy="231.5" r="2.3" fill="#d2d2d2"/>
<circle cx="371.4" cy="231.3" r="2.3" fill="#d2d2d2"/>
<circle cx="337.8" cy="231.2" r="2.3" fill="#d2d2d2"/>
<circle cx="356.4" cy="231.0" r="2.3" fill="#d2d2d2"/>
<circle cx="335.9" cy="230.6" r="2.3" fill="#d2d2d2"/>
<circle cx="340.2" cy="230.6" r="2.3" fill="#d2d2d2"/>
<circle cx="351.3" cy="230.3" r="2.3" fill="#d2d2d2"/>
<circle cx="345.3" cy="230.1" r="2.3" fill="#d2d2d2"/>
<circle cx="336.1" cy="229.9" r="2.3" fill="#d2d2d2"/>
<circle cx="369.3" cy="229.7" r="2.3" fill="#d2d2d2"/>
<circle cx="348.8" cy="229.6" r="2.3" fill="#d2d2d2"/>
<circle cx="354.9" cy="229.3" r="2.3" fill="#d2d2d2"/>
<circle cx="372.2" cy="229.2" r="2.3" fill="#d2d2d2"/>
<circle cx="299.8" cy="229.0" r="2.3" fill="#d2d2d2"/>
<circle cx="326.6" cy="228.8" r="2.3" fill="#d2d2d2"/>
<circle cx="328.0" cy="228.6" r="2.3" fill="#d2d2d2"/>
<circle cx="349.9" cy="228.3" r="2.3" fill="#d2d2d2"/>
<circle cx="316.1" cy="228.2" r="2.3" fill="#d2d2d2"/>
<circle cx="353.2" cy="228.0" r="2.3" fill="#d2d2d2"/>
<circle cx="336.5" cy="227.7" r="2.3" fill="#d2d2d2"/>
<circle cx="357.9" cy="227.6" r="2.3" fill="#d2d2d2"/>
<circle cx="311.9" cy="227.4" r="2.3" fill="#d2d2d2"/>
<circle cx="356.0" cy="227.2" r="2.3" fill="#d2d2d2"/>
<circle cx="344.9" cy="226.9" r="2.3" fill="#d2d2d2"/>
<circle cx="339.2" cy="226.8" r="2.3" fill="#d2d2d2"/>
<circle cx="370.6" cy="226.6" r="2.3" fill="#d2d2d2"/>
<circle cx="345.2" cy="226.4" r="2.3" fill="#d2d2d2"/>
<circle cx="359.1" cy="226.1" r="2.3" fill="#d2d2d2"/>
<circle cx="318.4" cy="226.0" r="2.3" fill="#d2d2d2"/>
<circle cx="305.2" cy="225.7" r="2.3" fill="#d2d2d2"/>
<circle cx="323.1" cy="225.5" r="2.3" fill="#d2d2d2"/>
<circle cx="316.3" cy="225.3" r="2.3" fill="#d2d2d2"/>
<circle cx="315.2" cy="225.2" r="2.3" fill="#d2d2d2"/>
<circle cx="309.9" cy="225.0" r="2.3" fill="#d2d2d2"/>
<circle cx="351.7" cy="224.9" r="2.3" fill="#d2d2d2"/>
<circle cx="314.5" cy="224.6" r="2.3" fill="#d2d2d2"/>
<circle cx="332.8" cy="224.4" r="2.3" fill="#d2d2d2"/>
<circle cx="345.1" cy="224.2" r="2.3" fill="#d2d2d2"/>
<circle cx="323.7" cy="223.9" r="2.3" fill="#d2d2d2"/>
<circle cx="362.0" cy="223.7" r="2.3" fill="#d2d2d2"/>
<circle cx="360.0" cy="223.7" r="2.3" fill="#d2d2d2"/>
<circle cx="356.6" cy="223.3" r="2.3" fill="#d2d2d2"/>
<circle cx="360.2" cy="223.2" r="2.3" fill="#d2d2d2"/>
<circle cx="296.6" cy="222.9" r="2.3" fill="#d2d2d2"/>
<circle cx="369.6" cy="222.9" r="2.3" fill="#d2d2d2"/>
<circle cx="314.9" cy="222.5" r="2.3" fill="#d2d2d2"/>
<circle cx="306.5" cy="222.5" r="2.3" fill="#d2d2d2"/>
<circle cx="356.0" cy="222.2" r="2.3" fill="#d2d2d2"/>
<circle cx="307.3" cy="222.0" r="2.3" fill="#d2d2d2"/>
<circle cx="357.2" cy="221.7" r="2.3" fill="#d2d2d2"/>
<circle cx="364.9" cy="221.7" r="2.3" fill="#d2d2d2"/>
<circle cx="356.3" cy="221.4" r="2.3" fill="#d2d2d2"/>
<circle cx="365.1" cy="221.2" r="2.3" fill="#d2d2d2"/>
<circle cx="360.8" cy="220.9" r="2.3" fill="#d2d2d2"/>
<circle cx="349.4" cy="220.9" r="2.3" fill="#d2d2d2"/>
<circle cx="353.3" cy="220.6" r="2.3" fill="#d2d2d2"/>
<circle cx="364.2" cy="220.4" r="2.3" fill="#d2d2d2"/>
<circle cx="316.0" cy="220.2" r="2.3" fill="#d2d2d2"/>
<circle cx="306.3" cy="220.1" r="2.3" fill="#d2d2d2"/>
<circle cx="300.0" cy="219.8" r="2.3" fill="#d2d2d2"/>
<circle cx="306.7" cy="219.6" r="2.3" fill="#d2d2d2"/>
<circle cx="334.3" cy="219.4" r="2.3" fill="#d2d2d2"/>
<circle cx="362.7" cy="219.2" r="2.3" fill="#d2d2d2"/>
<circle cx="361.0" cy="219.1" r="2.3" fill="#d2d2d2"/>
<circle cx="339.3" cy="218.8" r="2.3" fill="#d2d2d2"/>
<circle cx="361.0" cy="218.6" r="2.3" fill="#d2d2d2"/>
<circle cx="328.1" cy="218.4" r="2.3" fill="#d2d2d2"/>
<circle cx="301.3" cy="218.1" r="2.3" fill="#d2d2d2"/>
<circle cx="345.0" cy="218.0" r="2.3" fill="#d2d2d2"/>
<circle cx="343.0" cy="217.9" r="2.3" fill="#d2d2d2"/>
<circle cx="368.1" cy="217.6" r="2.3" fill="#d2d2d2"/>
<circle cx="372.0" cy="217.5" r="2.3" fill="#d2d2d2"/>
<circle cx="333.2" cy="217.2" r="2.3" fill="#d2d2d2"/>
<circle cx="298.0" cy="216.9" r="2.3" fill="#d2d2d2"/>
<circle cx="344.2" cy="216.8" r="2.3" fill="#d2d2d2"/>
<circle cx="362.6" cy="216.7" r="2.3" fill="#d2d2d2"/>
<circle cx="332.4" cy="216.5" r="2.3" fill="#d2d2d2"/>
<circle cx="355.5" cy="216.2" r="2.3" fill="#d2d2d2"/>
<circle cx="329.3" cy="216.1" r="2.3" fill="#d2d2d2"/>
<circle cx="338.6" cy="215.8" r="2.3" fill="#d2d2d2"/>
<circle cx="318.2" cy="215.6" r="2.3" fill="#d2d2d2"/>
<circle cx="326.9" cy="215.4" r="2.3" fill="#d2d2d2"/>
<circle cx="316.6" cy="215.2" r="2.3" fill="#d2d2d2"/>
<circle cx="371.4" cy="215.0" r="2.3" fill="#d2d2d2"/>
<circle cx="357.2" cy="214.8" r="2.3" fill="#d2d2d2"/>
<circle cx="320.1" cy="214.7" r="2.3" fill="#d2d2d2"/>
<circle cx="341.1" cy="214.5" r="2.3" fill="#d2d2d2"/>
<circle cx="356.6" cy="214.2" r="2.3" fill="#d2d2d2"/>
<circle cx="351.8" cy="214.1" r="2.3" fill="#d2d2d2"/>
<circle cx="337.9" cy="213.8" r="2.3" fill="#d2d2d2"/>
<circle cx="318.8" cy="213.7" r="2.3" fill="#d2d2d2"/>
<circle cx="310.2" cy="213.5" r="2.3" fill="#d2d2d2"/>
<circle cx="342.9" cy="213.2" r="2.3" fill="#d2d2d2"/>
<circle cx="356.9" cy="213.0" r="2.3" fill="#d2d2d2"/>
<circle cx="343.1" cy="212.8" r="2.3" fill="#d2d2d2"/>
<circle cx="344.3" cy="212.6" r="2.3" fill="#d2d2d2"/>
<circle cx="341.9" cy="212.4" r="2.3" fill="#d2d2d2"/>
<circle cx="312.0" cy="212.3" r="2.3" fill="#d2d2d2"/>
<circle cx="331.1" cy="212.1" r="2.3" fill="#d2d2d2"/>
<circle cx="303.3" cy="212.0" r="2.3" fill="#d2d2d2"/>
<circle cx="298.3" cy="211.9" r="2.3" fill="#d2d2d2"/>
<circle cx="366.7" cy="211.7" r="2.3" fill="#d2d2d2"/>
<circle cx="324.2" cy="211.6" r="2.3" fill="#d2d2d2"/>
<circle cx="356.8" cy="211.4" r="2.3" fill="#d2d2d2"/>
<circle cx="315.5" cy="211.3" r="2.3" fill="#d2d2d2"/>
<circle cx="328.3" cy="211.2" r="2.3" fill="#d2d2d2"/>
<circle cx="329.0" cy="211.1" r="2.3" fill="#d2d2d2"/>
<circle cx="368.2" cy="210.9" r="2.3" fill="#d2d2d2"/>
<circle cx="339.7" cy="210.9" r="2.3" fill="#d2d2d2"/>
<circle cx="304.7" cy="210.7" r="2.3" fill="#d2d2d2"/>
<circle cx="340.3" cy="210.5" r="2.3" fill="#d2d2d2"/>
<circle cx="330.2" cy="210.4" r="2.3" fill="#d2d2d2"/>
<circle cx="325.6" cy="210.4" r="2.3" fill="#d2d2d2"/>
<circle cx="368.5" cy="210.1" r="2.3" fill="#d2d2d2"/>
<circle cx="332.5" cy="210.0" r="2.3" fill="#d2d2d2"/>
<circle cx="303.4" cy="209.9" r="2.3" fill="#d2d2d2"/>
<circle cx="312.0" cy="209.7" r="2.3" fill="#d2d2d2"/>
<circle cx="296.6" cy="209.7" r="2.3" fill="#d2d2d2"/>
<circle cx="348.7" cy="209.6" r="2.3" fill="#d2d2d2"/>
<circle cx="370.8" cy="209.4" r="2.3" fill="#d2d2d2"/>
<circle cx="363.2" cy="209.3" r="2.3" fill="#d2d2d2"/>
<circle cx="296.8" cy="209.1" r="2.3" fill="#d2d2d2"/>
<circle cx="314.3" cy="208.9" r="2.3" fill="#d2d2d2"/>
<circle cx="310.0" cy="208.8" r="2.3" fill="#d2d2d2"/>
<circle cx="355.8" cy="208.7" r="2.3" fill="#d2d2d2"/>
<circle cx="362.1" cy="208.5" r="2.3" fill="#d2d2d2"/>
<circle cx="302.0" cy="208.4" r="2.3" fill="#d2d2d2"/>
<circle cx="350.7" cy="208.3" r="2.3" fill="#d2d2d2"/>
<circle cx="368.1" cy="208.2" r="2.3" fill="#d2d2d2"/>
<circle cx="370.6" cy="208.0" r="2.3" fill="#d2d2d2"/>
<circle cx="296.3" cy="207.9" r="2.3" fill="#d2d2d2"/>
<circle cx="346.2" cy="207.8" r="2.3" fill="#d2d2d2"/>
<circle cx="301.6" cy="207.6" r="2.3" fill="#d2d2d2"/>
<circle cx="352.3" cy="207.5" r="2.3" fill="#d2d2d2"/>
<circle cx="362.6" cy="207.4" r="2.3" fill="#d2d2d2"/>
<circle cx="300.1" cy="207.2" r="2.3" fill="#d2d2d2"/>
<circle cx="340.2" cy="207.1" r="2.3" fill="#d2d2d2"/>
<circle cx="348.2" cy="207.0" r="2.3" fill="#d2d2d2"/>
<circle cx="357.6" cy="206.9" r="2.3" fill="#d2d2d2"/>
<circle cx="345.7" cy="206.7" r="2.3" fill="#d2d2d2"/>
<circle cx="328.0" cy="206.5" r="2.3" fill="#d2d2d2"/>
<circle cx="356.7" cy="206.4" r="2.3" fill="#d2d2d2"/>
<circle cx="356.6" cy="206.2" r="2.3" fill="#d2d2d2"/>
<circle cx="318.2" cy="206.1" r="2.3" fill="#d2d2d2"/>
<circle cx="371.4" cy="206.1" r="2.3" fill="#d2d2d2"/>
<circle cx="359.9" cy="205.8" r="2.3" fill="#d2d2d2"/>
<circle cx="342.7" cy="205.8" r="2.3" fill="#d2d2d2"/>
<circle cx="360.2" cy="205.5" r="2.3" fill="#d2d2d2"/>
<circle cx="319.5" cy="205.5" r="2.3" fill="#d2d2d2"/>
<circle cx="364.7" cy="205.3" r="2.3" fill="#d2d2d2"/>
<circle cx="348.8" cy="205.2" r="2.3" fill="#d2d2d2"/>
<circle cx="365.3" cy="205.1" r="2.3" fill="#d2d2d2"/>
<circle cx="317.5" cy="204.9" r="2.3" fill="#d2d2d2"/>
<circle cx="315.9" cy="204.9" r="2.3" fill="#d2d2d2"/>
<circle cx="341.2" cy="204.7" r="2.3" fill="#d2d2d2"/>
<circle cx="364.6" cy="204.5" r="2.3" fill="#d2d2d2"/>
<circle cx="360.4" cy="204.5" r="2.3" fill="#d2d2d2"/>
<circle cx="363.0" cy="204.2" r="2.3" fill="#d2d2d2"/>
<circle cx="316.8" cy="204.1" r="2.3" fill="#d2d2d2"/>
<circle cx="358.3" cy="204.0" r="2.3" fill="#d2d2d2"/>
<circle cx="366.7" cy="203.8" r="2.3" fill="#d2d2d2"/>
<circle cx="302.0" cy="203.8" r="2.3" fill="#d2d2d2"/>
<circle cx="357.6" cy="203.6" r="2.3" fill="#d2d2d2"/>
<circle cx="353.9" cy="203.5" r="2.3" fill="#d2d2d2"/>
<circle cx="313.7" cy="203.3" r="2.3" fill="#d2d2d2"/>
<circle cx="348.3" cy="203.2" r="2.3" fill="#d2d2d2"/>
<circle cx="311.5" cy="203.1" r="2.3" fill="#d2d2d2"/>
<circle cx="354.0" cy="203.0" r="2.3" fill="#d2d2d2"/>
<circle cx="331.3" cy="202.8" r="2.3" fill="#d2d2d2"/>
<circle cx="358.3" cy="202.7" r="2.3" fill="#d2d2d2"/>
<circle cx="313.6" cy="202.5" r="2.3" fill="#d2d2d2"/>
<circle cx="365.4" cy="202.4" r="2.3" fill="#d2d2d2"/>
<circle cx="336.1" cy="202.2" r="2.3" fill="#d2d2d2"/>
<circle cx="341.4" cy="202.1" r="2.3" fill="#d2d2d2"/>
<circle cx="310.4" cy="202.0" r="2.3" fill="#d2d2d2"/>
<circle cx="350.1" cy="201.9" r="2.3" fill="#d2d2d2"/>
<circle cx="339.4" cy="201.7" r="2.3" fill="#d2d2d2"/>
<circle cx="335.7" cy="201.6" r="2.3" fill="#d2d2d2"/>
<circle cx="298.9" cy="201.5" r="2.3" fill="#d2d2d2"/>
<circle cx="324.6" cy="201.3" r="2.3" fill="#d2d2d2"/>
<circle cx="344.8" cy="201.2" r="2.3" fill="#d2d2d2"/>
<circle cx="307.6" cy="201.0" r="2.3" fill="#d2d2d2"/>
<circle cx="322.3" cy="200.9" r="2.3" fill="#d2d2d2"/>
<circle cx="297.0" cy="200.8" r="2.3" fill="#d2d2d2"/>
<circle cx="372.7" cy="200.7" r="2.3" fill="#d2d2d2"/>
<circle cx="333.3" cy="200.5" r="2.3" fill="#d2d2d2"/>
<circle cx="315.8" cy="200.4" r="2.3" fill="#d2d2d2"/>
<circle cx="328.6" cy="200.2" r="2.3" fill="#d2d2d2"/>
<circle cx="355.2" cy="200.1" r="2.3" fill="#d2d2d2"/>
<circle cx="370.6" cy="200.0" r="2.3" fill="#d2d2d2"/>
<circle cx="298.4" cy="199.9" r="2.3" fill="#d2d2d2"/>
<circle cx="309.5" cy="199.8" r="2.3" fill="#d2d2d2"/>
<circle cx="299.4" cy="199.6" r="2.3" fill="#d2d2d2"/>
<circle cx="363.3" cy="199.5" r="2.3" fill="#d2d2d2"/>
<circle cx="369.3" cy="199.3" r="2.3" fill="#d2d2d2"/>
<circle cx="300.4" cy="199.1" r="2.3" fill="#d2d2d2"/>
<circle cx="326.4" cy="199.0" r="2.3" fill="#d2d2d2"/>
<circle cx="370.2" cy="199.0" r="2.3" fill="#d2d2d2"/>
<circle cx="339.4" cy="198.8" r="2.3" fill="#d2d2d2"/>
<circle cx="370.0" cy="198.6" r="2.3" fill="#d2d2d2"/>
<circle cx="326.1" cy="198.5" r="2.3" fill="#d2d2d2"/>
<circle cx="307.9" cy="198.4" r="2.3" fill="#d2d2d2"/>
<circle cx="372.8" cy="198.2" r="2.3" fill="#d2d2d2"/>
<circle cx="298.4" cy="198.2" r="2.3" fill="#d2d2d2"/>
<circle cx="322.9" cy="198.0" r="2.3" fill="#d2d2d2"/>
<circle cx="366.0" cy="197.8" r="2.3" fill="#d2d2d2"/>
<circle cx="299.1" cy="197.7" r="2.3" fill="#d2d2d2"/>
<circle cx="350.7" cy="197.5" r="2.3" fill="#d2d2d2"/>
<circle cx="372.3" cy="197.4" r="2.3" fill="#d2d2d2"/>
<circle cx="306.7" cy="197.4" r="2.3" fill="#d2d2d2"/>
<circle cx="368.7" cy="197.2" r="2.3" fill="#d2d2d2"/>
<circle cx="318.7" cy="197.0" r="2.3" fill="#d2d2d2"/>
<circle cx="354.5" cy="196.9" r="2.3" fill="#d2d2d2"/>
<circle cx="320.7" cy="196.8" r="2.3" fill="#d2d2d2"/>
<circle cx="305.1" cy="196.7" r="2.3" fill="#d2d2d2"/>
<circle cx="308.5" cy="196.5" r="2.3" fill="#d2d2d2"/>
<circle cx="306.6" cy="196.4" r="2.3" fill="#d2d2d2"/>
<circle cx="296.4" cy="196.1" r="2.3" fill="#d2d2d2"/>
<circle cx="310.6" cy="195.9" r="2.3" fill="#d2d2d2"/>
<circle cx="367.8" cy="195.8" r="2.3" fill="#d2d2d2"/>
<circle cx="368.3" cy="195.4" r="2.3" fill="#d2d2d2"/>
<circle cx="364.7" cy="195.0" r="2.3" fill="#d2d2d2"/>
<circle cx="330.3" cy="194.9" r="2.3" fill="#d2d2d2"/>
<circle cx="367.8" cy="194.7" r="2.3" fill="#d2d2d2"/>
<circle cx="344.4" cy="194.2" r="2.3" fill="#d2d2d2"/>
<circle cx="321.9" cy="194.0" r="2.3" fill="#d2d2d2"/>
<circle cx="332.6" cy="193.7" r="2.3" fill="#d2d2d2"/>
<circle cx="306.5" cy="193.4" r="2.3" fill="#d2d2d2"/>
<circle cx="299.8" cy="193.3" r="2.3" fill="#d2d2d2"/>
<circle cx="338.6" cy="192.9" r="2.3" fill="#d2d2d2"/>
<circle cx="363.3" cy="192.8" r="2.3" fill="#d2d2d2"/>
<circle cx="327.5" cy="192.4" r="2.3" fill="#d2d2d2"/>
<circle cx="316.5" cy="192.2" r="2.3" fill="#d2d2d2"/>
<circle cx="321.5" cy="191.7" r="2.3" fill="#d2d2d2"/>
<circle cx="333.7" cy="191.7" r="2.3" fill="#d2d2d2"/>
<circle cx="365.8" cy="191.3" r="2.3" fill="#d2d2d2"/>
<circle cx="371.7" cy="191.1" r="2.3" fill="#d2d2d2"/>
<circle cx="365.2" cy="190.9" r="2.3" fill="#d2d2d2"/>
<circle cx="311.9" cy="190.4" r="2.3" fill="#d2d2d2"/>
<circle cx="317.7" cy="190.2" r="2.3" fill="#d2d2d2"/>
<circle cx="311.1" cy="190.0" r="2.3" fill="#d2d2d2"/>
<circle cx="372.7" cy="189.7" r="2.3" fill="#d2d2d2"/>
<circle cx="367.6" cy="189.3" r="2.3" fill="#d2d2d2"/>
<circle cx="318.0" cy="189.2" r="2.3" fill="#d2d2d2"/>
<circle cx="299.9" cy="188.8" r="2.3" fill="#d2d2d2"/>
<circle cx="318.3" cy="188.5" r="2.3" fill="#d2d2d2"/>
<circle cx="296.7" cy="188.2" r="2.3" fill="#d2d2d2"/>
<circle cx="322.0" cy="188.0" r="2.3" fill="#d2d2d2"/>
<circle cx="295.5" cy="187.9" r="2.3" fill="#d2d2d2"/>
<circle cx="336.5" cy="187.4" r="2.3" fill="#d2d2d2"/>
<circle cx="329.3" cy="187.3" r="2.3" fill="#d2d2d2"/>
<circle cx="312.4" cy="186.8" r="2.3" fill="#d2d2d2"/>
<circle cx="306.2" cy="186.7" r="2.3" fill="#d2d2d2"/>
<circle cx="355.5" cy="186.5" r="2.3" fill="#d2d2d2"/>
<circle cx="310.7" cy="186.1" r="2.3" fill="#d2d2d2"/>
<circle cx="302.2" cy="186.0" r="2.3" fill="#d2d2d2"/>
<circle cx="334.0" cy="185.6" r="2.3" fill="#d2d2d2"/>
<circle cx="311.5" cy="185.4" r="2.3" fill="#d2d2d2"/>
<circle cx="350.6" cy="185.0" r="2.3" fill="#d2d2d2"/>
<circle cx="340.9" cy="184.7" r="2.3" fill="#d2d2d2"/>
<circle cx="300.5" cy="184.6" r="2.3" fill="#d2d2d2"/>
<circle cx="327.2" cy="184.2" r="2.3" fill="#d2d2d2"/>
<circle cx="299.7" cy="183.9" r="2.3" fill="#d2d2d2"/>
<circle cx="321.5" cy="183.6" r="2.3" fill="#d2d2d2"/>
<circle cx="362.8" cy="183.3" r="2.3" fill="#d2d2d2"/>
<circle cx="296.6" cy="183.2" r="2.3" fill="#d2d2d2"/>
<circle cx="332.6" cy="182.8" r="2.3" fill="#d2d2d2"/>
<circle cx="316.2" cy="182.5" r="2.3" fill="#d2d2d2"/>
<circle cx="360.3" cy="182.4" r="2.3" fill="#d2d2d2"/>
<circle cx="308.2" cy="182.1" r="2.3" fill="#d2d2d2"/>
<circle cx="341.8" cy="181.8" r="2.3" fill="#d2d2d2"/>
<circle cx="335.9" cy="181.7" r="2.3" fill="#d2d2d2"/>
<circle cx="335.6" cy="181.3" r="2.3" fill="#d2d2d2"/>
<circle cx="351.1" cy="181.1" r="2.3" fill="#d2d2d2"/>
<circle cx="362.9" cy="180.6" r="2.3" fill="#d2d2d2"/>
<circle cx="350.9" cy="180.5" r="2.3" fill="#d2d2d2"/>
<circle cx="354.0" cy="180.2" r="2.3" fill="#d2d2d2"/>
<circle cx="363.5" cy="180.0" r="2.3" fill="#d2d2d2"/>
<circle cx="334.0" cy="179.5" r="2.3" fill="#d2d2d2"/>
<circle cx="336.8" cy="179.4" r="2.3" fill="#d2d2d2"/>
<circle cx="297.0" cy="179.1" r="2.3" fill="#d2d2d2"/>
<circle cx="312.8" cy="178.7" r="2.3" fill="#d2d2d2"/>
<circle cx="303.4" cy="178.6" r="2.3" fill="#d2d2d2"/>
<circle cx="359.1" cy="178.3" r="2.3" fill="#d2d2d2"/>
<circle cx="302.9" cy="178.1" r="2.3" fill="#d2d2d2"/>
<circle cx="310.6" cy="177.7" r="2.3" fill="#d2d2d2"/>
<circle cx="342.2" cy="177.6" r="2.3" fill="#d2d2d2"/>
<circle cx="336.2" cy="177.2" r="2.3" fill="#d2d2d2"/>
<circle cx="303.4" cy="176.9" r="2.3" fill="#d2d2d2"/>
<circle cx="351.3" cy="176.6" r="2.3" fill="#d2d2d2"/>
<circle cx="305.0" cy="176.5" r="2.3" fill="#d2d2d2"/>
<circle cx="334.5" cy="176.1" r="2.3" fill="#d2d2d2"/>
<circle cx="304.9" cy="175.9" r="2.3" fill="#d2d2d2"/>
<circle cx="306.1" cy="175.6" r="2.3" fill="#d2d2d2"/>
<circle cx="362.6" cy="175.3" r="2.3" fill="#d2d2d2"/>
<circle cx="340.1" cy="175.1" r="2.3" fill="#d2d2d2"/>
<circle cx="308.2" cy="174.7" r="2.3" fill="#d2d2d2"/>
<circle cx="368.5" cy="174.4" r="2.3" fill="#d2d2d2"/>
<circle cx="328.2" cy="174.2" r="2.3" fill="#d2d2d2"/>
<circle cx="336.4" cy="173.8" r="2.3" fill="#d2d2d2"/>
<circle cx="368.8" cy="173.7" r="2.3" fill="#d2d2d2"/>
<circle cx="321.8" cy="173.3" r="2.3" fill="#d2d2d2"/>
<circle cx="321.5" cy="173.2" r="2.3" fill="#d2d2d2"/>
<circle cx="371.9" cy="172.9" r="2.3" fill="#d2d2d2"/>
<circle cx="366.6" cy="172.5" r="2.3" fill="#d2d2d2"/>
<circle cx="361.5" cy="172.2" r="2.3" fill="#d2d2d2"/>
<circle cx="335.8" cy="172.2" r="2.3" fill="#d2d2d2"/>
<circle cx="368.3" cy="171.6" r="2.3" fill="#d2d2d2"/>
<circle cx="328.3" cy="171.6" r="2.3" fill="#d2d2d2"/>
<circle cx="323.8" cy="171.2" r="2.3" fill="#d2d2d2"/>
<circle cx="300.8" cy="170.9" r="2.3" fill="#d2d2d2"/>
<circle cx="334.8" cy="170.7" r="2.3" fill="#d2d2d2"/>
<circle cx="306.3" cy="170.5" r="2.3" fill="#d2d2d2"/>
<circle cx="356.0" cy="170.0" r="2.3" fill="#d2d2d2"/>
<circle cx="344.8" cy="169.8" r="2.3" fill="#d2d2d2"/>
<circle cx="364.4" cy="169.5" r="2.3" fill="#d2d2d2"/>
<circle cx="298.1" cy="169.2" r="2.3" fill="#d2d2d2"/>
<circle cx="316.1" cy="169.0" r="2.3" fill="#d2d2d2"/>
<circle cx="316.7" cy="168.7" r="2.3" fill="#d2d2d2"/>
<circle cx="367.5" cy="168.5" r="2.3" fill="#d2d2d2"/>
<circle cx="314.9" cy="168.2" r="2.3" fill="#d2d2d2"/>
<circle cx="329.2" cy="168.0" r="2.3" fill="#d2d2d2"/>
<circle cx="317.8" cy="167.6" r="2.3" fill="#d2d2d2"/>
<circle cx="345.9" cy="167.5" r="2.3" fill="#d2d2d2"/>
<circle cx="341.8" cy="167.3" r="2.3" fill="#d2d2d2"/>
<circle cx="335.5" cy="166.8" r="2.3" fill="#d2d2d2"/>
<circle cx="331.8" cy="166.7" r="2.3" fill="#d2d2d2"/>
<circle cx="307.0" cy="166.3" r="2.3" fill="#d2d2d2"/>
<circle cx="305.6" cy="166.2" r="2.3" fill="#d2d2d2"/>
<circle cx="327.1" cy="165.9" r="2.3" fill="#d2d2d2"/>
<circle cx="314.4" cy="164.3" r="2.3" fill="#d2d2d2"/>
<circle cx="338.0" cy="161.9" r="2.3" fill="#d2d2d2"/>
<circle cx="343.0" cy="156.6" r="2.3" fill="#d2d2d2"/>
<circle cx="346.1" cy="154.5" r="2.3" fill="#d2d2d2"/>
<circle cx="350.8" cy="152.6" r="2.3" fill="#d2d2d2"/>
<circle cx="338.1" cy="148.8" r="2.3" fill="#d2d2d2"/>
<circle cx="332.0" cy="145.4" r="2.3" fill="#d2d2d2"/>
<circle cx="187.2" cy="41.5" r="2.3" fill="#d2d2d2"/>
<circle cx="340.0" cy="135.0" r="2.3" fill="#d2d2d2"/>
<path d="M131.7,23.5 H400.3 V288.1 H131.7" fill="none" stroke="#000" stroke-width="1.25"/>
<line x1="135.5" y1="23.5" x2="135.5" y2="288.1" stroke="#000" stroke-width="1.25"/>
<line x1="131.7" y1="221.95" x2="135.5" y2="221.95" stroke="#000" stroke-width="1.2"/>
<line x1="131.7" y1="155.80" x2="135.5" y2="155.80" stroke="#000" stroke-width="1.2"/>
<line x1="131.7" y1="89.65" x2="135.5" y2="89.65" stroke="#000" stroke-width="1.2"/>
<text transform="translate(128.9,292.80) scale(0.89,1)" text-anchor="end" class="ti">0</text>
<text transform="translate(128.9,226.65) scale(0.89,1)" text-anchor="end" class="ti">40</text>
<text transform="translate(128.9,160.50) scale(0.89,1)" text-anchor="end" class="ti">80</text>
<text transform="translate(128.9,94.35) scale(0.89,1)" text-anchor="end" class="ti">120</text>
<text transform="translate(128.9,28.20) scale(0.89,1)" text-anchor="end" class="ti">160</text>
<line x1="201.5" y1="288.1" x2="201.5" y2="292.70000000000005" stroke="#000" stroke-width="1.2"/>
<line x1="334.4" y1="288.1" x2="334.4" y2="292.70000000000005" stroke="#000" stroke-width="1.2"/>
<text x="199.2" y="303.8" text-anchor="middle" style="font-size:14.2px;font-style:italic">Allium</text>
<text x="334.0" y="303.8" text-anchor="middle" style="font-size:14.2px;font-style:italic">Codonoprasum</text>
<text transform="translate(94.4,148.3) rotate(-90)" text-anchor="middle" style="font-size:14.4px">2C value (pg)</text>
<line x1="201.5" y1="263.2" x2="201.5" y2="236.0" stroke="#000" stroke-width="1.25"/>
<line x1="201.5" y1="210.5" x2="201.5" y2="171.2" stroke="#000" stroke-width="1.25"/>
<line x1="181.7" y1="263.2" x2="221.3" y2="263.2" stroke="#000" stroke-width="1.25"/>
<line x1="181.7" y1="171.2" x2="221.3" y2="171.2" stroke="#000" stroke-width="1.25"/>
<rect x="161.65" y="210.5" width="79.7" height="25.5" fill="none" stroke="#000" stroke-width="1.25"/>
<line x1="161.65" y1="224.0" x2="241.35" y2="224.0" stroke="#000" stroke-width="1.25"/>
<circle cx="201.5" cy="41.5" r="2.6" fill="none" stroke="#000" stroke-width="1.15"/>
<circle cx="201.5" cy="131.4" r="2.6" fill="none" stroke="#000" stroke-width="1.15"/>
<circle cx="201.5" cy="135.9" r="2.6" fill="none" stroke="#000" stroke-width="1.15"/>
<circle cx="201.5" cy="142.2" r="2.6" fill="none" stroke="#000" stroke-width="1.15"/>
<circle cx="201.5" cy="145.1" r="2.6" fill="none" stroke="#000" stroke-width="1.15"/>
<circle cx="201.5" cy="149.8" r="2.6" fill="none" stroke="#000" stroke-width="1.15"/>
<circle cx="201.5" cy="157.3" r="2.6" fill="none" stroke="#000" stroke-width="1.15"/>
<circle cx="201.5" cy="160.6" r="2.6" fill="none" stroke="#000" stroke-width="1.15"/>
<circle cx="201.5" cy="164.1" r="2.6" fill="none" stroke="#000" stroke-width="1.15"/>
<circle cx="201.5" cy="168.8" r="2.6" fill="none" stroke="#000" stroke-width="1.15"/>
<line x1="334.4" y1="252.5" x2="334.4" y2="236.1" stroke="#000" stroke-width="1.25"/>
<line x1="334.4" y1="196.3" x2="334.4" y2="144.2" stroke="#000" stroke-width="1.25"/>
<line x1="314.59999999999997" y1="252.5" x2="354.2" y2="252.5" stroke="#000" stroke-width="1.25"/>
<line x1="314.59999999999997" y1="144.2" x2="354.2" y2="144.2" stroke="#000" stroke-width="1.25"/>
<rect x="294.54999999999995" y="196.3" width="79.7" height="39.79999999999998" fill="none" stroke="#000" stroke-width="1.25"/>
<line x1="294.54999999999995" y1="212.3" x2="374.25" y2="212.3" stroke="#000" stroke-width="1.25"/>
<circle cx="334.4" cy="135.6" r="2.6" fill="none" stroke="#000" stroke-width="1.15"/>
<path d="M70.5,6.8 H683.6 V617.9 H70.5" fill="none" stroke="#1a1a1a" stroke-width="1.7"/>
<line x1="77.9" y1="6.8" x2="77.9" y2="617.9" stroke="#1a1a1a" stroke-width="1.7"/>
<line x1="70.5" y1="617.90" x2="77.9" y2="617.90" stroke="#1a1a1a" stroke-width="1.5"/>
<text transform="translate(63.6,622.90) scale(0.97,1)" text-anchor="end" class="tl">20</text>
<line x1="70.5" y1="577.18" x2="77.9" y2="577.18" stroke="#1a1a1a" stroke-width="1.5"/>
<text transform="translate(63.6,582.18) scale(0.97,1)" text-anchor="end" class="tl">25</text>
<line x1="70.5" y1="536.46" x2="77.9" y2="536.46" stroke="#1a1a1a" stroke-width="1.5"/>
<text transform="translate(63.6,541.46) scale(0.97,1)" text-anchor="end" class="tl">30</text>
<line x1="70.5" y1="495.74" x2="77.9" y2="495.74" stroke="#1a1a1a" stroke-width="1.5"/>
<text transform="translate(63.6,500.74) scale(0.97,1)" text-anchor="end" class="tl">35</text>
<line x1="70.5" y1="455.02" x2="77.9" y2="455.02" stroke="#1a1a1a" stroke-width="1.5"/>
<text transform="translate(63.6,460.02) scale(0.97,1)" text-anchor="end" class="tl">40</text>
<line x1="70.5" y1="414.30" x2="77.9" y2="414.30" stroke="#1a1a1a" stroke-width="1.5"/>
<text transform="translate(63.6,419.30) scale(0.97,1)" text-anchor="end" class="tl">45</text>
<line x1="70.5" y1="373.58" x2="77.9" y2="373.58" stroke="#1a1a1a" stroke-width="1.5"/>
<text transform="translate(63.6,378.58) scale(0.97,1)" text-anchor="end" class="tl">50</text>
<line x1="70.5" y1="332.86" x2="77.9" y2="332.86" stroke="#1a1a1a" stroke-width="1.5"/>
<text transform="translate(63.6,337.86) scale(0.97,1)" text-anchor="end" class="tl">55</text>
<line x1="70.5" y1="292.14" x2="77.9" y2="292.14" stroke="#1a1a1a" stroke-width="1.5"/>
<text transform="translate(63.6,297.14) scale(0.97,1)" text-anchor="end" class="tl">60</text>
<line x1="70.5" y1="251.42" x2="77.9" y2="251.42" stroke="#1a1a1a" stroke-width="1.5"/>
<text transform="translate(63.6,256.42) scale(0.97,1)" text-anchor="end" class="tl">65</text>
<line x1="70.5" y1="210.70" x2="77.9" y2="210.70" stroke="#1a1a1a" stroke-width="1.5"/>
<text transform="translate(63.6,215.70) scale(0.97,1)" text-anchor="end" class="tl">70</text>
<line x1="70.5" y1="169.98" x2="77.9" y2="169.98" stroke="#1a1a1a" stroke-width="1.5"/>
<text transform="translate(63.6,174.98) scale(0.97,1)" text-anchor="end" class="tl">75</text>
<line x1="70.5" y1="129.26" x2="77.9" y2="129.26" stroke="#1a1a1a" stroke-width="1.5"/>
<text transform="translate(63.6,134.26) scale(0.97,1)" text-anchor="end" class="tl">80</text>
<line x1="70.5" y1="88.54" x2="77.9" y2="88.54" stroke="#1a1a1a" stroke-width="1.5"/>
<text transform="translate(63.6,93.54) scale(0.97,1)" text-anchor="end" class="tl">85</text>
<line x1="70.5" y1="47.82" x2="77.9" y2="47.82" stroke="#1a1a1a" stroke-width="1.5"/>
<text transform="translate(63.6,52.82) scale(0.97,1)" text-anchor="end" class="tl">90</text>
<line x1="70.5" y1="7.10" x2="77.9" y2="7.10" stroke="#1a1a1a" stroke-width="1.5"/>
<text transform="translate(63.6,12.10) scale(0.97,1)" text-anchor="end" class="tl">95</text>
<line x1="74.10000000000001" y1="609.76" x2="77.9" y2="609.76" stroke="#1a1a1a" stroke-width="1.3"/>
<line x1="74.10000000000001" y1="601.61" x2="77.9" y2="601.61" stroke="#1a1a1a" stroke-width="1.3"/>
<line x1="74.10000000000001" y1="593.47" x2="77.9" y2="593.47" stroke="#1a1a1a" stroke-width="1.3"/>
<line x1="74.10000000000001" y1="585.32" x2="77.9" y2="585.32" stroke="#1a1a1a" stroke-width="1.3"/>
<line x1="74.10000000000001" y1="569.04" x2="77.9" y2="569.04" stroke="#1a1a1a" stroke-width="1.3"/>
<line x1="74.10000000000001" y1="560.89" x2="77.9" y2="560.89" stroke="#1a1a1a" stroke-width="1.3"/>
<line x1="74.10000000000001" y1="552.75" x2="77.9" y2="552.75" stroke="#1a1a1a" stroke-width="1.3"/>
<line x1="74.10000000000001" y1="544.60" x2="77.9" y2="544.60" stroke="#1a1a1a" stroke-width="1.3"/>
<line x1="74.10000000000001" y1="528.32" x2="77.9" y2="528.32" stroke="#1a1a1a" stroke-width="1.3"/>
<line x1="74.10000000000001" y1="520.17" x2="77.9" y2="520.17" stroke="#1a1a1a" stroke-width="1.3"/>
<line x1="74.10000000000001" y1="512.03" x2="77.9" y2="512.03" stroke="#1a1a1a" stroke-width="1.3"/>
<line x1="74.10000000000001" y1="503.88" x2="77.9" y2="503.88" stroke="#1a1a1a" stroke-width="1.3"/>
<line x1="74.10000000000001" y1="487.60" x2="77.9" y2="487.60" stroke="#1a1a1a" stroke-width="1.3"/>
<line x1="74.10000000000001" y1="479.45" x2="77.9" y2="479.45" stroke="#1a1a1a" stroke-width="1.3"/>
<line x1="74.10000000000001" y1="471.31" x2="77.9" y2="471.31" stroke="#1a1a1a" stroke-width="1.3"/>
<line x1="74.10000000000001" y1="463.16" x2="77.9" y2="463.16" stroke="#1a1a1a" stroke-width="1.3"/>
<line x1="74.10000000000001" y1="446.88" x2="77.9" y2="446.88" stroke="#1a1a1a" stroke-width="1.3"/>
<line x1="74.10000000000001" y1="438.73" x2="77.9" y2="438.73" stroke="#1a1a1a" stroke-width="1.3"/>
<line x1="74.10000000000001" y1="430.59" x2="77.9" y2="430.59" stroke="#1a1a1a" stroke-width="1.3"/>
<line x1="74.10000000000001" y1="422.44" x2="77.9" y2="422.44" stroke="#1a1a1a" stroke-width="1.3"/>
<line x1="74.10000000000001" y1="406.16" x2="77.9" y2="406.16" stroke="#1a1a1a" stroke-width="1.3"/>
<line x1="74.10000000000001" y1="398.01" x2="77.9" y2="398.01" stroke="#1a1a1a" stroke-width="1.3"/>
<line x1="74.10000000000001" y1="389.87" x2="77.9" y2="389.87" stroke="#1a1a1a" stroke-width="1.3"/>
<line x1="74.10000000000001" y1="381.72" x2="77.9" y2="381.72" stroke="#1a1a1a" stroke-width="1.3"/>
<line x1="74.10000000000001" y1="365.44" x2="77.9" y2="365.44" stroke="#1a1a1a" stroke-width="1.3"/>
<line x1="74.10000000000001" y1="357.29" x2="77.9" y2="357.29" stroke="#1a1a1a" stroke-width="1.3"/>
<line x1="74.10000000000001" y1="349.15" x2="77.9" y2="349.15" stroke="#1a1a1a" stroke-width="1.3"/>
<line x1="74.10000000000001" y1="341.00" x2="77.9" y2="341.00" stroke="#1a1a1a" stroke-width="1.3"/>
<line x1="74.10000000000001" y1="324.72" x2="77.9" y2="324.72" stroke="#1a1a1a" stroke-width="1.3"/>
<line x1="74.10000000000001" y1="316.57" x2="77.9" y2="316.57" stroke="#1a1a1a" stroke-width="1.3"/>
<line x1="74.10000000000001" y1="308.43" x2="77.9" y2="308.43" stroke="#1a1a1a" stroke-width="1.3"/>
<line x1="74.10000000000001" y1="300.28" x2="77.9" y2="300.28" stroke="#1a1a1a" stroke-width="1.3"/>
<line x1="74.10000000000001" y1="284.00" x2="77.9" y2="284.00" stroke="#1a1a1a" stroke-width="1.3"/>
<line x1="74.10000000000001" y1="275.85" x2="77.9" y2="275.85" stroke="#1a1a1a" stroke-width="1.3"/>
<line x1="74.10000000000001" y1="267.71" x2="77.9" y2="267.71" stroke="#1a1a1a" stroke-width="1.3"/>
<line x1="74.10000000000001" y1="259.56" x2="77.9" y2="259.56" stroke="#1a1a1a" stroke-width="1.3"/>
<line x1="74.10000000000001" y1="243.28" x2="77.9" y2="243.28" stroke="#1a1a1a" stroke-width="1.3"/>
<line x1="74.10000000000001" y1="235.13" x2="77.9" y2="235.13" stroke="#1a1a1a" stroke-width="1.3"/>
<line x1="74.10000000000001" y1="226.99" x2="77.9" y2="226.99" stroke="#1a1a1a" stroke-width="1.3"/>
<line x1="74.10000000000001" y1="218.84" x2="77.9" y2="218.84" stroke="#1a1a1a" stroke-width="1.3"/>
<line x1="74.10000000000001" y1="202.56" x2="77.9" y2="202.56" stroke="#1a1a1a" stroke-width="1.3"/>
<line x1="74.10000000000001" y1="194.41" x2="77.9" y2="194.41" stroke="#1a1a1a" stroke-width="1.3"/>
<line x1="74.10000000000001" y1="186.27" x2="77.9" y2="186.27" stroke="#1a1a1a" stroke-width="1.3"/>
<line x1="74.10000000000001" y1="178.12" x2="77.9" y2="178.12" stroke="#1a1a1a" stroke-width="1.3"/>
<line x1="74.10000000000001" y1="161.84" x2="77.9" y2="161.84" stroke="#1a1a1a" stroke-width="1.3"/>
<line x1="74.10000000000001" y1="153.69" x2="77.9" y2="153.69" stroke="#1a1a1a" stroke-width="1.3"/>
<line x1="74.10000000000001" y1="145.55" x2="77.9" y2="145.55" stroke="#1a1a1a" stroke-width="1.3"/>
<line x1="74.10000000000001" y1="137.40" x2="77.9" y2="137.40" stroke="#1a1a1a" stroke-width="1.3"/>
<line x1="74.10000000000001" y1="121.12" x2="77.9" y2="121.12" stroke="#1a1a1a" stroke-width="1.3"/>
<line x1="74.10000000000001" y1="112.97" x2="77.9" y2="112.97" stroke="#1a1a1a" stroke-width="1.3"/>
<line x1="74.10000000000001" y1="104.83" x2="77.9" y2="104.83" stroke="#1a1a1a" stroke-width="1.3"/>
<line x1="74.10000000000001" y1="96.68" x2="77.9" y2="96.68" stroke="#1a1a1a" stroke-width="1.3"/>
<line x1="74.10000000000001" y1="80.40" x2="77.9" y2="80.40" stroke="#1a1a1a" stroke-width="1.3"/>
<line x1="74.10000000000001" y1="72.25" x2="77.9" y2="72.25" stroke="#1a1a1a" stroke-width="1.3"/>
<line x1="74.10000000000001" y1="64.11" x2="77.9" y2="64.11" stroke="#1a1a1a" stroke-width="1.3"/>
<line x1="74.10000000000001" y1="55.96" x2="77.9" y2="55.96" stroke="#1a1a1a" stroke-width="1.3"/>
<line x1="74.10000000000001" y1="39.68" x2="77.9" y2="39.68" stroke="#1a1a1a" stroke-width="1.3"/>
<line x1="74.10000000000001" y1="31.53" x2="77.9" y2="31.53" stroke="#1a1a1a" stroke-width="1.3"/>
<line x1="74.10000000000001" y1="23.39" x2="77.9" y2="23.39" stroke="#1a1a1a" stroke-width="1.3"/>
<line x1="74.10000000000001" y1="15.24" x2="77.9" y2="15.24" stroke="#1a1a1a" stroke-width="1.3"/>
<line x1="87.8" y1="617.9" x2="87.8" y2="625.3" stroke="#1a1a1a" stroke-width="1.5"/>
<line x1="106.0" y1="617.9" x2="106.0" y2="625.3" stroke="#1a1a1a" stroke-width="1.5"/>
<line x1="124.4" y1="617.9" x2="124.4" y2="625.3" stroke="#1a1a1a" stroke-width="1.5"/>
<line x1="142.8" y1="617.9" x2="142.8" y2="625.3" stroke="#1a1a1a" stroke-width="1.5"/>
<line x1="161.2" y1="617.9" x2="161.2" y2="625.3" stroke="#1a1a1a" stroke-width="1.5"/>
<line x1="179.6" y1="617.9" x2="179.6" y2="625.3" stroke="#1a1a1a" stroke-width="1.5"/>
<line x1="198.0" y1="617.9" x2="198.0" y2="625.3" stroke="#1a1a1a" stroke-width="1.5"/>
<line x1="216.9" y1="617.9" x2="216.9" y2="625.3" stroke="#1a1a1a" stroke-width="1.5"/>
<line x1="235.5" y1="617.9" x2="235.5" y2="625.3" stroke="#1a1a1a" stroke-width="1.5"/>
<line x1="253.9" y1="617.9" x2="253.9" y2="625.3" stroke="#1a1a1a" stroke-width="1.5"/>
<line x1="272.1" y1="617.9" x2="272.1" y2="625.3" stroke="#1a1a1a" stroke-width="1.5"/>
<line x1="289.9" y1="617.9" x2="289.9" y2="625.3" stroke="#1a1a1a" stroke-width="1.5"/>
<line x1="309.1" y1="617.9" x2="309.1" y2="625.3" stroke="#1a1a1a" stroke-width="1.5"/>
<line x1="327.5" y1="617.9" x2="327.5" y2="625.3" stroke="#1a1a1a" stroke-width="1.5"/>
<line x1="345.9" y1="617.9" x2="345.9" y2="625.3" stroke="#1a1a1a" stroke-width="1.5"/>
<line x1="364.3" y1="617.9" x2="364.3" y2="625.3" stroke="#1a1a1a" stroke-width="1.5"/>
<line x1="381.1" y1="617.9" x2="381.1" y2="625.3" stroke="#1a1a1a" stroke-width="1.5"/>
<line x1="398.4" y1="617.9" x2="398.4" y2="625.3" stroke="#1a1a1a" stroke-width="1.5"/>
<line x1="414.8" y1="617.9" x2="414.8" y2="625.3" stroke="#1a1a1a" stroke-width="1.5"/>
<line x1="432.9" y1="617.9" x2="432.9" y2="625.3" stroke="#1a1a1a" stroke-width="1.5"/>
<line x1="452.8" y1="617.9" x2="452.8" y2="625.3" stroke="#1a1a1a" stroke-width="1.5"/>
<line x1="471.2" y1="617.9" x2="471.2" y2="625.3" stroke="#1a1a1a" stroke-width="1.5"/>
<line x1="489.6" y1="617.9" x2="489.6" y2="625.3" stroke="#1a1a1a" stroke-width="1.5"/>
<line x1="508.0" y1="617.9" x2="508.0" y2="625.3" stroke="#1a1a1a" stroke-width="1.5"/>
<line x1="526.4" y1="617.9" x2="526.4" y2="625.3" stroke="#1a1a1a" stroke-width="1.5"/>
<line x1="544.8" y1="617.9" x2="544.8" y2="625.3" stroke="#1a1a1a" stroke-width="1.5"/>
<line x1="564.2" y1="617.9" x2="564.2" y2="625.3" stroke="#1a1a1a" stroke-width="1.5"/>
<line x1="582.6" y1="617.9" x2="582.6" y2="625.3" stroke="#1a1a1a" stroke-width="1.5"/>
<line x1="600.6" y1="617.9" x2="600.6" y2="625.3" stroke="#1a1a1a" stroke-width="1.5"/>
<line x1="619.0" y1="617.9" x2="619.0" y2="625.3" stroke="#1a1a1a" stroke-width="1.5"/>
<line x1="637.3" y1="617.9" x2="637.3" y2="625.3" stroke="#1a1a1a" stroke-width="1.5"/>
<line x1="655.8" y1="617.9" x2="655.8" y2="625.3" stroke="#1a1a1a" stroke-width="1.5"/>
<line x1="674.0" y1="617.9" x2="674.0" y2="625.3" stroke="#1a1a1a" stroke-width="1.5"/>
<line x1="80.3" y1="597.6" x2="80.3" y2="600.6" stroke="#111" stroke-width="1.45"/>
<rect x="78.80" y="597.5" width="2.8" height="3.30" fill="#805858" stroke="#111" stroke-width="0.95"/>
<circle cx="80.3" cy="599.1" r="4.55" fill="#ffafaf" stroke="#0a0a0a" stroke-width="1.42"/>
<rect x="78.80" y="597.5" width="2.8" height="3.30" fill="none" stroke="#111" stroke-opacity="0.85" stroke-width="0.95"/>
<circle cx="82.9" cy="544.9" r="4.55" fill="#b8b3ff" stroke="#222" stroke-width="1.42"/>
<circle cx="85.3" cy="431.5" r="4.55" fill="#1eff00" stroke="#0a0a0a" stroke-width="1.42"/>
<rect x="99.60" y="456.1" width="2.8" height="21.50" fill="#7673a3" stroke="#111" stroke-width="0.95"/>
<circle cx="101.0" cy="473.4" r="4.55" fill="#b8b3ff" stroke="#222" stroke-width="1.42"/>
<rect x="99.60" y="456.1" width="2.8" height="21.50" fill="none" stroke="#111" stroke-opacity="0.85" stroke-width="0.95"/>
<circle cx="116.8" cy="595.9" r="4.55" fill="#ffafaf" stroke="#0a0a0a" stroke-width="1.42"/>
<line x1="136.5" y1="584.5" x2="136.5" y2="597.0" stroke="#111" stroke-width="1.45"/>
<rect x="135.10" y="587.0" width="2.8" height="9.00" fill="#a37070" stroke="#111" stroke-width="0.95"/>
<circle cx="136.5" cy="592.6" r="4.55" fill="#ffafaf" stroke="#0a0a0a" stroke-width="1.42"/>
<rect x="135.10" y="587.0" width="2.8" height="9.00" fill="none" stroke="#111" stroke-opacity="0.85" stroke-width="0.95"/>
<circle cx="154.9" cy="589.4" r="4.55" fill="#ffafaf" stroke="#0a0a0a" stroke-width="1.42"/>
<circle cx="173.0" cy="588.0" r="4.55" fill="#ffafaf" stroke="#0a0a0a" stroke-width="1.42"/>
<circle cx="191.4" cy="558.7" r="4.55" fill="#ffafaf" stroke="#0a0a0a" stroke-width="1.42"/>
<line x1="209.8" y1="532.4" x2="209.8" y2="570.2" stroke="#111" stroke-width="1.45"/>
<rect x="208.40" y="548.6" width="2.8" height="10.30" fill="#a37070" stroke="#111" stroke-width="0.95"/>
<circle cx="209.8" cy="555.0" r="4.55" fill="#ffafaf" stroke="#0a0a0a" stroke-width="1.42"/>
<rect x="208.40" y="548.6" width="2.8" height="10.30" fill="none" stroke="#111" stroke-opacity="0.85" stroke-width="0.95"/>
<circle cx="209.8" cy="524.6" r="2.85" fill="#fff" stroke="#111" stroke-width="1.2"/>
<circle cx="209.8" cy="527.0" r="2.85" fill="#fff" stroke="#111" stroke-width="1.2"/>
<circle cx="209.8" cy="529.4" r="2.85" fill="#fff" stroke="#111" stroke-width="1.2"/>
<circle cx="209.8" cy="582.2" r="2.85" fill="#fff" stroke="#111" stroke-width="1.2"/>
<circle cx="209.8" cy="606.6" r="2.7" fill="#000"/>
<line x1="214.7" y1="410.1" x2="214.7" y2="471.0" stroke="#111" stroke-width="1.45"/>
<rect x="213.30" y="414.6" width="2.8" height="29.00" fill="#1ceb00" stroke="#111" stroke-width="0.95"/>
<circle cx="214.7" cy="419.1" r="4.55" fill="#1eff00" stroke="#0a0a0a" stroke-width="1.42"/>
<rect x="213.30" y="414.6" width="2.8" height="29.00" fill="none" stroke="#111" stroke-opacity="0.85" stroke-width="0.95"/>
<circle cx="228.0" cy="551.3" r="4.55" fill="#ffafaf" stroke="#0a0a0a" stroke-width="1.42"/>
<rect x="245.20" y="541.2" width="2.8" height="16.00" fill="#a37070" stroke="#111" stroke-width="0.95"/>
<circle cx="246.6" cy="550.8" r="4.55" fill="#ffafaf" stroke="#0a0a0a" stroke-width="1.42"/>
<rect x="245.20" y="541.2" width="2.8" height="16.00" fill="none" stroke="#111" stroke-opacity="0.85" stroke-width="0.95"/>
<circle cx="249.0" cy="455.1" r="4.55" fill="#b8b3ff" stroke="#222" stroke-width="1.42"/>
<rect x="264.10" y="533.6" width="2.8" height="14.90" fill="#a37070" stroke="#111" stroke-width="0.95"/>
<circle cx="265.5" cy="541.2" r="4.55" fill="#ffafaf" stroke="#0a0a0a" stroke-width="1.42"/>
<rect x="264.10" y="533.6" width="2.8" height="14.90" fill="none" stroke="#111" stroke-opacity="0.85" stroke-width="0.95"/>
<circle cx="267.9" cy="430.3" r="4.55" fill="#b8b3ff" stroke="#222" stroke-width="1.42"/>
<rect x="282.40" y="523.6" width="2.8" height="24.90" fill="#a37070" stroke="#111" stroke-width="0.95"/>
<circle cx="283.8" cy="536.1" r="4.55" fill="#ffafaf" stroke="#0a0a0a" stroke-width="1.42"/>
<rect x="282.40" y="523.6" width="2.8" height="24.90" fill="none" stroke="#111" stroke-opacity="0.85" stroke-width="0.95"/>
<rect x="300.70" y="523.4" width="2.8" height="6.60" fill="#a37070" stroke="#111" stroke-width="0.95"/>
<circle cx="302.1" cy="529.0" r="4.55" fill="#ffafaf" stroke="#0a0a0a" stroke-width="1.42"/>
<rect x="300.70" y="523.4" width="2.8" height="6.60" fill="none" stroke="#111" stroke-opacity="0.85" stroke-width="0.95"/>
<line x1="307.0" y1="420.0" x2="307.0" y2="471.6" stroke="#111" stroke-width="1.45"/>
<rect x="305.60" y="433.4" width="2.8" height="26.00" fill="#13a300" stroke="#111" stroke-width="0.95"/>
<circle cx="307.0" cy="445.5" r="4.55" fill="#1eff00" stroke="#0a0a0a" stroke-width="1.42"/>
<rect x="305.60" y="433.4" width="2.8" height="26.00" fill="none" stroke="#111" stroke-opacity="0.85" stroke-width="0.95"/>
<circle cx="320.0" cy="528.7" r="4.55" fill="#ffafaf" stroke="#0a0a0a" stroke-width="1.42"/>
<rect x="338.70" y="524.6" width="2.8" height="3.00" fill="#805858" stroke="#111" stroke-width="0.95"/>
<circle cx="340.1" cy="526.1" r="4.55" fill="#ffafaf" stroke="#0a0a0a" stroke-width="1.42"/>
<rect x="338.70" y="524.6" width="2.8" height="3.00" fill="none" stroke="#111" stroke-opacity="0.85" stroke-width="0.95"/>
<rect x="356.60" y="518.7" width="2.8" height="11.70" fill="#a37070" stroke="#111" stroke-width="0.95"/>
<circle cx="358.0" cy="524.1" r="4.55" fill="#ffafaf" stroke="#0a0a0a" stroke-width="1.42"/>
<rect x="356.60" y="518.7" width="2.8" height="11.70" fill="none" stroke="#111" stroke-opacity="0.85" stroke-width="0.95"/>
<rect x="376.00" y="518.7" width="2.8" height="10.20" fill="#a37070" stroke="#111" stroke-width="0.95"/>
<circle cx="377.4" cy="523.8" r="4.55" fill="#ffafaf" stroke="#0a0a0a" stroke-width="1.42"/>
<rect x="376.00" y="518.7" width="2.8" height="10.20" fill="none" stroke="#111" stroke-opacity="0.85" stroke-width="0.95"/>
<circle cx="394.2" cy="519.4" r="4.55" fill="#ffafaf" stroke="#0a0a0a" stroke-width="1.42"/>
<line x1="408.8" y1="494.6" x2="408.8" y2="499.2" stroke="#111" stroke-width="1.45"/>
<rect x="407.40" y="499.2" width="2.8" height="17.30" fill="#a37070" stroke="#111" stroke-width="0.95"/>
<circle cx="408.8" cy="516.5" r="4.55" fill="#ffafaf" stroke="#0a0a0a" stroke-width="1.42"/>
<rect x="407.40" y="499.2" width="2.8" height="17.30" fill="none" stroke="#111" stroke-opacity="0.85" stroke-width="0.95"/>
<line x1="427.0" y1="480.1" x2="427.0" y2="526.1" stroke="#111" stroke-width="1.45"/>
<rect x="425.60" y="495.6" width="2.8" height="27.00" fill="#a37070" stroke="#111" stroke-width="0.95"/>
<circle cx="427.0" cy="512.1" r="4.55" fill="#ffafaf" stroke="#0a0a0a" stroke-width="1.42"/>
<rect x="425.60" y="495.6" width="2.8" height="27.00" fill="none" stroke="#111" stroke-opacity="0.85" stroke-width="0.95"/>
<line x1="429.6" y1="360.3" x2="429.6" y2="413.7" stroke="#111" stroke-width="1.45"/>
<rect x="428.20" y="380.9" width="2.8" height="18.90" fill="#b8b3ff" stroke="#111" stroke-width="0.95"/>
<circle cx="429.6" cy="389.7" r="4.55" fill="#b8b3ff" stroke="#222" stroke-width="1.42"/>
<rect x="428.20" y="380.9" width="2.8" height="18.90" fill="none" stroke="#111" stroke-opacity="0.85" stroke-width="0.95"/>
<circle cx="432.0" cy="319.2" r="4.55" fill="#1eff00" stroke="#0a0a0a" stroke-width="1.42"/>
<circle cx="445.4" cy="507.3" r="4.55" fill="#ffafaf" stroke="#0a0a0a" stroke-width="1.42"/>
<line x1="463.8" y1="465.2" x2="463.8" y2="551.5" stroke="#111" stroke-width="1.45"/>
<rect x="462.40" y="482.3" width="2.8" height="53.00" fill="#a37070" stroke="#111" stroke-width="0.95"/>
<circle cx="463.8" cy="499.0" r="4.55" fill="#ffafaf" stroke="#0a0a0a" stroke-width="1.42"/>
<rect x="462.40" y="482.3" width="2.8" height="53.00" fill="none" stroke="#111" stroke-opacity="0.85" stroke-width="0.95"/>
<line x1="482.1" y1="489.8" x2="482.1" y2="548.0" stroke="#111" stroke-width="1.45"/>
<rect x="480.70" y="489.8" width="2.8" height="45.50" fill="#a37070" stroke="#111" stroke-width="0.95"/>
<circle cx="482.1" cy="493.8" r="4.55" fill="#ffafaf" stroke="#0a0a0a" stroke-width="1.42"/>
<rect x="480.70" y="489.8" width="2.8" height="45.50" fill="none" stroke="#111" stroke-opacity="0.85" stroke-width="0.95"/>
<rect x="502.70" y="451.0" width="2.8" height="4.00" fill="#5c5a80" stroke="#111" stroke-width="0.95"/>
<circle cx="504.1" cy="452.9" r="4.55" fill="#b8b3ff" stroke="#222" stroke-width="1.42"/>
<rect x="502.70" y="451.0" width="2.8" height="4.00" fill="none" stroke="#111" stroke-opacity="0.85" stroke-width="0.95"/>
<circle cx="506.6" cy="393.6" r="4.55" fill="#1eff00" stroke="#0a0a0a" stroke-width="1.42"/>
<rect x="521.20" y="427.8" width="2.8" height="9.40" fill="#b8b3ff" stroke="#111" stroke-width="0.95"/>
<circle cx="522.6" cy="432.6" r="4.55" fill="#b8b3ff" stroke="#222" stroke-width="1.42"/>
<rect x="521.20" y="427.8" width="2.8" height="9.40" fill="none" stroke="#111" stroke-opacity="0.85" stroke-width="0.95"/>
<circle cx="522.6" cy="450.3" r="2.85" fill="#fff" stroke="#111" stroke-width="1.2"/>
<line x1="524.8" y1="324.8" x2="524.8" y2="389.3" stroke="#111" stroke-width="1.45"/>
<rect x="523.40" y="340.4" width="2.8" height="41.10" fill="#13a300" stroke="#111" stroke-width="0.95"/>
<circle cx="524.8" cy="351.1" r="4.55" fill="#1eff00" stroke="#0a0a0a" stroke-width="1.42"/>
<rect x="523.40" y="340.4" width="2.8" height="41.10" fill="none" stroke="#111" stroke-opacity="0.85" stroke-width="0.95"/>
<line x1="527.4" y1="244.0" x2="527.4" y2="293.7" stroke="#111" stroke-width="1.45"/>
<rect x="526.00" y="254.9" width="2.8" height="22.80" fill="#e600bf" stroke="#111" stroke-width="0.95"/>
<circle cx="527.4" cy="263.7" r="4.55" fill="#ff00d4" stroke="#0a0a0a" stroke-width="1.42"/>
<rect x="526.00" y="254.9" width="2.8" height="22.80" fill="none" stroke="#111" stroke-opacity="0.85" stroke-width="0.95"/>
<line x1="529.7" y1="184.1" x2="529.7" y2="205.7" stroke="#111" stroke-width="1.45"/>
<rect x="528.30" y="188.9" width="2.8" height="9.70" fill="#f28000" stroke="#111" stroke-width="0.95"/>
<circle cx="529.7" cy="191.4" r="4.55" fill="#ff8700" stroke="#0a0a0a" stroke-width="1.42"/>
<rect x="528.30" y="188.9" width="2.8" height="9.70" fill="none" stroke="#111" stroke-opacity="0.85" stroke-width="0.95"/>
<circle cx="529.7" cy="217.8" r="2.85" fill="#fff" stroke="#111" stroke-width="1.2"/>
<line x1="532.2" y1="70.4" x2="532.2" y2="98.9" stroke="#111" stroke-width="1.45"/>
<rect x="530.80" y="74.8" width="2.8" height="24.10" fill="#c7c300" stroke="#111" stroke-width="0.95"/>
<circle cx="532.2" cy="78.8" r="4.55" fill="#fffa00" stroke="#0a0a0a" stroke-width="1.42"/>
<rect x="530.80" y="74.8" width="2.8" height="24.10" fill="none" stroke="#111" stroke-opacity="0.85" stroke-width="0.95"/>
<circle cx="534.8" cy="30.3" r="4.55" fill="#00f0ff" stroke="#0a0a0a" stroke-width="1.42"/>
<circle cx="540.9" cy="432.4" r="4.55" fill="#b8b3ff" stroke="#222" stroke-width="1.42"/>
<line x1="561.6" y1="409.0" x2="561.6" y2="441.7" stroke="#111" stroke-width="1.45"/>
<rect x="560.20" y="423.5" width="2.8" height="10.70" fill="#1ceb00" stroke="#111" stroke-width="0.95"/>
<circle cx="561.6" cy="432.1" r="4.55" fill="#1eff00" stroke="#0a0a0a" stroke-width="1.42"/>
<rect x="560.20" y="423.5" width="2.8" height="10.70" fill="none" stroke="#111" stroke-opacity="0.85" stroke-width="0.95"/>
<line x1="580.0" y1="375.0" x2="580.0" y2="439.4" stroke="#111" stroke-width="1.45"/>
<rect x="578.60" y="390.5" width="2.8" height="38.20" fill="#13a300" stroke="#111" stroke-width="0.95"/>
<circle cx="580.0" cy="411.0" r="4.55" fill="#1eff00" stroke="#0a0a0a" stroke-width="1.42"/>
<rect x="578.60" y="390.5" width="2.8" height="38.20" fill="none" stroke="#111" stroke-opacity="0.85" stroke-width="0.95"/>
<line x1="598.4" y1="384.8" x2="598.4" y2="401.5" stroke="#111" stroke-width="1.45"/>
<rect x="597.00" y="386.0" width="2.8" height="13.30" fill="#1ad900" stroke="#111" stroke-width="0.95"/>
<circle cx="598.4" cy="391.0" r="4.55" fill="#1eff00" stroke="#0a0a0a" stroke-width="1.42"/>
<rect x="597.00" y="386.0" width="2.8" height="13.30" fill="none" stroke="#111" stroke-opacity="0.85" stroke-width="0.95"/>
<line x1="600.5" y1="294.2" x2="600.5" y2="329.3" stroke="#111" stroke-width="1.45"/>
<rect x="599.10" y="306.5" width="2.8" height="15.10" fill="#a30088" stroke="#111" stroke-width="0.95"/>
<circle cx="600.5" cy="314.1" r="4.55" fill="#ff00d4" stroke="#0a0a0a" stroke-width="1.42"/>
<rect x="599.10" y="306.5" width="2.8" height="15.10" fill="none" stroke="#111" stroke-opacity="0.85" stroke-width="0.95"/>
<line x1="616.6" y1="362.6" x2="616.6" y2="391.6" stroke="#111" stroke-width="1.45"/>
<rect x="615.20" y="364.0" width="2.8" height="19.00" fill="#1ceb00" stroke="#111" stroke-width="0.95"/>
<circle cx="616.6" cy="380.8" r="4.55" fill="#1eff00" stroke="#0a0a0a" stroke-width="1.42"/>
<rect x="615.20" y="364.0" width="2.8" height="19.00" fill="none" stroke="#111" stroke-opacity="0.85" stroke-width="0.95"/>
<circle cx="636.1" cy="368.0" r="4.55" fill="#1eff00" stroke="#0a0a0a" stroke-width="1.42"/>
<circle cx="654.5" cy="304.3" r="4.55" fill="#1eff00" stroke="#0a0a0a" stroke-width="1.42"/>
<circle cx="675.3" cy="253.0" r="4.55" fill="#ff00d4" stroke="#0a0a0a" stroke-width="1.42"/>
<line x1="96.0" y1="636.4" x2="96.0" y2="1247.4" stroke="#d6d6d6" stroke-width="1.35"/>
<line x1="114.4" y1="636.4" x2="114.4" y2="1247.4" stroke="#d6d6d6" stroke-width="1.35"/>
<line x1="132.8" y1="636.4" x2="132.8" y2="1247.4" stroke="#d6d6d6" stroke-width="1.35"/>
<line x1="152.2" y1="636.4" x2="152.2" y2="1247.4" stroke="#d6d6d6" stroke-width="1.35"/>
<line x1="170.6" y1="636.4" x2="170.6" y2="1247.4" stroke="#d6d6d6" stroke-width="1.35"/>
<line x1="189.0" y1="636.4" x2="189.0" y2="1247.4" stroke="#d6d6d6" stroke-width="1.35"/>
<line x1="207.2" y1="636.4" x2="207.2" y2="1247.4" stroke="#d6d6d6" stroke-width="1.35"/>
<line x1="225.5" y1="636.4" x2="225.5" y2="1247.4" stroke="#d6d6d6" stroke-width="1.35"/>
<line x1="244.0" y1="636.4" x2="244.0" y2="1247.4" stroke="#d6d6d6" stroke-width="1.35"/>
<line x1="262.8" y1="636.4" x2="262.8" y2="1247.4" stroke="#d6d6d6" stroke-width="1.35"/>
<line x1="281.2" y1="636.4" x2="281.2" y2="1247.4" stroke="#d6d6d6" stroke-width="1.35"/>
<line x1="299.5" y1="636.4" x2="299.5" y2="1247.4" stroke="#d6d6d6" stroke-width="1.35"/>
<line x1="318.0" y1="636.4" x2="318.0" y2="1247.4" stroke="#d6d6d6" stroke-width="1.35"/>
<line x1="336.3" y1="636.4" x2="336.3" y2="1247.4" stroke="#d6d6d6" stroke-width="1.35"/>
<line x1="354.6" y1="636.4" x2="354.6" y2="1247.4" stroke="#d6d6d6" stroke-width="1.35"/>
<line x1="372.4" y1="636.4" x2="372.4" y2="1247.4" stroke="#d6d6d6" stroke-width="1.35"/>
<line x1="389.6" y1="636.4" x2="389.6" y2="1247.4" stroke="#d6d6d6" stroke-width="1.35"/>
<line x1="406.4" y1="636.4" x2="406.4" y2="1247.4" stroke="#d6d6d6" stroke-width="1.35"/>
<line x1="424.6" y1="636.4" x2="424.6" y2="1247.4" stroke="#d6d6d6" stroke-width="1.35"/>
<line x1="443.1" y1="636.4" x2="443.1" y2="1247.4" stroke="#d6d6d6" stroke-width="1.35"/>
<line x1="461.5" y1="636.4" x2="461.5" y2="1247.4" stroke="#d6d6d6" stroke-width="1.35"/>
<line x1="479.9" y1="636.4" x2="479.9" y2="1247.4" stroke="#d6d6d6" stroke-width="1.35"/>
<line x1="498.3" y1="636.4" x2="498.3" y2="1247.4" stroke="#d6d6d6" stroke-width="1.35"/>
<line x1="516.9" y1="636.4" x2="516.9" y2="1247.4" stroke="#d6d6d6" stroke-width="1.35"/>
<line x1="536.2" y1="636.4" x2="536.2" y2="1247.4" stroke="#d6d6d6" stroke-width="1.35"/>
<line x1="554.5" y1="636.4" x2="554.5" y2="1247.4" stroke="#d6d6d6" stroke-width="1.35"/>
<line x1="572.6" y1="636.4" x2="572.6" y2="1247.4" stroke="#d6d6d6" stroke-width="1.35"/>
<line x1="591.3" y1="636.4" x2="591.3" y2="1247.4" stroke="#d6d6d6" stroke-width="1.35"/>
<line x1="609.7" y1="636.4" x2="609.7" y2="1247.4" stroke="#d6d6d6" stroke-width="1.35"/>
<line x1="628.4" y1="636.4" x2="628.4" y2="1247.4" stroke="#d6d6d6" stroke-width="1.35"/>
<line x1="647.0" y1="636.4" x2="647.0" y2="1247.4" stroke="#d6d6d6" stroke-width="1.35"/>
<line x1="665.6" y1="636.4" x2="665.6" y2="1247.4" stroke="#d6d6d6" stroke-width="1.35"/>
<line x1="77.9" y1="1145.40" x2="683.6" y2="1145.40" stroke="#d6d6d6" stroke-width="1.35"/>
<line x1="77.9" y1="1043.60" x2="683.6" y2="1043.60" stroke="#d6d6d6" stroke-width="1.35"/>
<line x1="77.9" y1="941.80" x2="683.6" y2="941.80" stroke="#d6d6d6" stroke-width="1.35"/>
<line x1="77.9" y1="840.00" x2="683.6" y2="840.00" stroke="#d6d6d6" stroke-width="1.35"/>
<line x1="77.9" y1="738.20" x2="683.6" y2="738.20" stroke="#d6d6d6" stroke-width="1.35"/>
<path d="M70.5,636.4 H683.6 V1247.4 H70.5" fill="none" stroke="#1a1a1a" stroke-width="1.7"/>
<line x1="77.9" y1="636.4" x2="77.9" y2="1247.4" stroke="#1a1a1a" stroke-width="1.7"/>
<line x1="70.5" y1="1247.20" x2="77.9" y2="1247.20" stroke="#1a1a1a" stroke-width="1.5"/>
<text transform="translate(63.6,1252.20) scale(0.97,1)" text-anchor="end" class="tl">8</text>
<line x1="70.5" y1="1145.40" x2="77.9" y2="1145.40" stroke="#1a1a1a" stroke-width="1.5"/>
<text transform="translate(63.6,1150.40) scale(0.97,1)" text-anchor="end" class="tl">10</text>
<line x1="70.5" y1="1043.60" x2="77.9" y2="1043.60" stroke="#1a1a1a" stroke-width="1.5"/>
<text transform="translate(63.6,1048.60) scale(0.97,1)" text-anchor="end" class="tl">12</text>
<line x1="70.5" y1="941.80" x2="77.9" y2="941.80" stroke="#1a1a1a" stroke-width="1.5"/>
<text transform="translate(63.6,946.80) scale(0.97,1)" text-anchor="end" class="tl">14</text>
<line x1="70.5" y1="840.00" x2="77.9" y2="840.00" stroke="#1a1a1a" stroke-width="1.5"/>
<text transform="translate(63.6,845.00) scale(0.97,1)" text-anchor="end" class="tl">16</text>
<line x1="70.5" y1="738.20" x2="77.9" y2="738.20" stroke="#1a1a1a" stroke-width="1.5"/>
<text transform="translate(63.6,743.20) scale(0.97,1)" text-anchor="end" class="tl">18</text>
<line x1="70.5" y1="636.40" x2="77.9" y2="636.40" stroke="#1a1a1a" stroke-width="1.5"/>
<text transform="translate(63.6,641.40) scale(0.97,1)" text-anchor="end" class="tl">20</text>
<line x1="74.10000000000001" y1="1221.75" x2="77.9" y2="1221.75" stroke="#1a1a1a" stroke-width="1.3"/>
<line x1="74.10000000000001" y1="1196.30" x2="77.9" y2="1196.30" stroke="#1a1a1a" stroke-width="1.3"/>
<line x1="74.10000000000001" y1="1170.85" x2="77.9" y2="1170.85" stroke="#1a1a1a" stroke-width="1.3"/>
<line x1="74.10000000000001" y1="1119.95" x2="77.9" y2="1119.95" stroke="#1a1a1a" stroke-width="1.3"/>
<line x1="74.10000000000001" y1="1094.50" x2="77.9" y2="1094.50" stroke="#1a1a1a" stroke-width="1.3"/>
<line x1="74.10000000000001" y1="1069.05" x2="77.9" y2="1069.05" stroke="#1a1a1a" stroke-width="1.3"/>
<line x1="74.10000000000001" y1="1018.15" x2="77.9" y2="1018.15" stroke="#1a1a1a" stroke-width="1.3"/>
<line x1="74.10000000000001" y1="992.70" x2="77.9" y2="992.70" stroke="#1a1a1a" stroke-width="1.3"/>
<line x1="74.10000000000001" y1="967.25" x2="77.9" y2="967.25" stroke="#1a1a1a" stroke-width="1.3"/>
<line x1="74.10000000000001" y1="916.35" x2="77.9" y2="916.35" stroke="#1a1a1a" stroke-width="1.3"/>
<line x1="74.10000000000001" y1="890.90" x2="77.9" y2="890.90" stroke="#1a1a1a" stroke-width="1.3"/>
<line x1="74.10000000000001" y1="865.45" x2="77.9" y2="865.45" stroke="#1a1a1a" stroke-width="1.3"/>
<line x1="74.10000000000001" y1="814.55" x2="77.9" y2="814.55" stroke="#1a1a1a" stroke-width="1.3"/>
<line x1="74.10000000000001" y1="789.10" x2="77.9" y2="789.10" stroke="#1a1a1a" stroke-width="1.3"/>
<line x1="74.10000000000001" y1="763.65" x2="77.9" y2="763.65" stroke="#1a1a1a" stroke-width="1.3"/>
<line x1="74.10000000000001" y1="712.75" x2="77.9" y2="712.75" stroke="#1a1a1a" stroke-width="1.3"/>
<line x1="74.10000000000001" y1="687.30" x2="77.9" y2="687.30" stroke="#1a1a1a" stroke-width="1.3"/>
<line x1="74.10000000000001" y1="661.85" x2="77.9" y2="661.85" stroke="#1a1a1a" stroke-width="1.3"/>
<line x1="85.5" y1="1247.4" x2="85.5" y2="1254.8000000000002" stroke="#1a1a1a" stroke-width="1.5"/>
<line x1="103.6" y1="1247.4" x2="103.6" y2="1254.8000000000002" stroke="#1a1a1a" stroke-width="1.5"/>
<line x1="122.3" y1="1247.4" x2="122.3" y2="1254.8000000000002" stroke="#1a1a1a" stroke-width="1.5"/>
<line x1="140.4" y1="1247.4" x2="140.4" y2="1254.8000000000002" stroke="#1a1a1a" stroke-width="1.5"/>
<line x1="158.8" y1="1247.4" x2="158.8" y2="1254.8000000000002" stroke="#1a1a1a" stroke-width="1.5"/>
<line x1="177.2" y1="1247.4" x2="177.2" y2="1254.8000000000002" stroke="#1a1a1a" stroke-width="1.5"/>
<line x1="195.6" y1="1247.4" x2="195.6" y2="1254.8000000000002" stroke="#1a1a1a" stroke-width="1.5"/>
<line x1="214.8" y1="1247.4" x2="214.8" y2="1254.8000000000002" stroke="#1a1a1a" stroke-width="1.5"/>
<line x1="233.4" y1="1247.4" x2="233.4" y2="1254.8000000000002" stroke="#1a1a1a" stroke-width="1.5"/>
<line x1="251.6" y1="1247.4" x2="251.6" y2="1254.8000000000002" stroke="#1a1a1a" stroke-width="1.5"/>
<line x1="270.2" y1="1247.4" x2="270.2" y2="1254.8000000000002" stroke="#1a1a1a" stroke-width="1.5"/>
<line x1="287.8" y1="1247.4" x2="287.8" y2="1254.8000000000002" stroke="#1a1a1a" stroke-width="1.5"/>
<line x1="307.0" y1="1247.4" x2="307.0" y2="1254.8000000000002" stroke="#1a1a1a" stroke-width="1.5"/>
<line x1="325.4" y1="1247.4" x2="325.4" y2="1254.8000000000002" stroke="#1a1a1a" stroke-width="1.5"/>
<line x1="343.8" y1="1247.4" x2="343.8" y2="1254.8000000000002" stroke="#1a1a1a" stroke-width="1.5"/>
<line x1="362.2" y1="1247.4" x2="362.2" y2="1254.8000000000002" stroke="#1a1a1a" stroke-width="1.5"/>
<line x1="380.0" y1="1247.4" x2="380.0" y2="1254.8000000000002" stroke="#1a1a1a" stroke-width="1.5"/>
<line x1="397.1" y1="1247.4" x2="397.1" y2="1254.8000000000002" stroke="#1a1a1a" stroke-width="1.5"/>
<line x1="412.6" y1="1247.4" x2="412.6" y2="1254.8000000000002" stroke="#1a1a1a" stroke-width="1.5"/>
<line x1="431.0" y1="1247.4" x2="431.0" y2="1254.8000000000002" stroke="#1a1a1a" stroke-width="1.5"/>
<line x1="450.7" y1="1247.4" x2="450.7" y2="1254.8000000000002" stroke="#1a1a1a" stroke-width="1.5"/>
<line x1="469.1" y1="1247.4" x2="469.1" y2="1254.8000000000002" stroke="#1a1a1a" stroke-width="1.5"/>
<line x1="487.5" y1="1247.4" x2="487.5" y2="1254.8000000000002" stroke="#1a1a1a" stroke-width="1.5"/>
<line x1="505.9" y1="1247.4" x2="505.9" y2="1254.8000000000002" stroke="#1a1a1a" stroke-width="1.5"/>
<line x1="524.3" y1="1247.4" x2="524.3" y2="1254.8000000000002" stroke="#1a1a1a" stroke-width="1.5"/>
<line x1="542.7" y1="1247.4" x2="542.7" y2="1254.8000000000002" stroke="#1a1a1a" stroke-width="1.5"/>
<line x1="561.9" y1="1247.4" x2="561.9" y2="1254.8000000000002" stroke="#1a1a1a" stroke-width="1.5"/>
<line x1="580.4" y1="1247.4" x2="580.4" y2="1254.8000000000002" stroke="#1a1a1a" stroke-width="1.5"/>
<line x1="598.7" y1="1247.4" x2="598.7" y2="1254.8000000000002" stroke="#1a1a1a" stroke-width="1.5"/>
<line x1="616.9" y1="1247.4" x2="616.9" y2="1254.8000000000002" stroke="#1a1a1a" stroke-width="1.5"/>
<line x1="635.2" y1="1247.4" x2="635.2" y2="1254.8000000000002" stroke="#1a1a1a" stroke-width="1.5"/>
<line x1="654.0" y1="1247.4" x2="654.0" y2="1254.8000000000002" stroke="#1a1a1a" stroke-width="1.5"/>
<line x1="672.2" y1="1247.4" x2="672.2" y2="1254.8000000000002" stroke="#1a1a1a" stroke-width="1.5"/>
<rect x="78.60" y="1082.8" width="2.8" height="9.20" fill="#db9696" stroke="#111" stroke-width="0.95"/>
<circle cx="80.0" cy="1087.0" r="4.55" fill="#ffafaf" stroke="#0a0a0a" stroke-width="1.42"/>
<rect x="78.60" y="1082.8" width="2.8" height="9.20" fill="none" stroke="#111" stroke-opacity="0.85" stroke-width="0.95"/>
<circle cx="85.0" cy="1109.0" r="4.55" fill="#1eff00" stroke="#0a0a0a" stroke-width="1.42"/>
<circle cx="82.6" cy="1162.8" r="4.55" fill="#b8b3ff" stroke="#222" stroke-width="1.42"/>
<rect x="99.50" y="979.9" width="2.8" height="42.00" fill="#6e6b99" stroke="#111" stroke-width="0.95"/>
<circle cx="100.9" cy="1013.8" r="4.55" fill="#b8b3ff" stroke="#222" stroke-width="1.42"/>
<rect x="99.50" y="979.9" width="2.8" height="42.00" fill="none" stroke="#111" stroke-opacity="0.85" stroke-width="0.95"/>
<circle cx="116.8" cy="1077.2" r="4.55" fill="#ffafaf" stroke="#0a0a0a" stroke-width="1.42"/>
<line x1="136.3" y1="1038.9" x2="136.3" y2="1082.3" stroke="#111" stroke-width="1.45"/>
<rect x="134.90" y="1042.9" width="2.8" height="34.70" fill="#db9696" stroke="#111" stroke-width="0.95"/>
<circle cx="136.3" cy="1066.9" r="4.55" fill="#ffafaf" stroke="#0a0a0a" stroke-width="1.42"/>
<rect x="134.90" y="1042.9" width="2.8" height="34.70" fill="none" stroke="#111" stroke-opacity="0.85" stroke-width="0.95"/>
<circle cx="154.7" cy="1056.6" r="4.55" fill="#ffafaf" stroke="#0a0a0a" stroke-width="1.42"/>
<circle cx="172.8" cy="1051.7" r="4.55" fill="#ffafaf" stroke="#0a0a0a" stroke-width="1.42"/>
<circle cx="191.3" cy="960.0" r="4.55" fill="#ffafaf" stroke="#0a0a0a" stroke-width="1.42"/>
<line x1="209.6" y1="881.2" x2="209.6" y2="997.9" stroke="#111" stroke-width="1.45"/>
<rect x="208.20" y="927.5" width="2.8" height="35.60" fill="#db9696" stroke="#111" stroke-width="0.95"/>
<circle cx="209.6" cy="949.6" r="4.55" fill="#ffafaf" stroke="#0a0a0a" stroke-width="1.42"/>
<rect x="208.20" y="927.5" width="2.8" height="35.60" fill="none" stroke="#111" stroke-opacity="0.85" stroke-width="0.95"/>
<circle cx="209.6" cy="855.3" r="2.85" fill="#fff" stroke="#111" stroke-width="1.2"/>
<circle cx="209.6" cy="865.7" r="2.85" fill="#fff" stroke="#111" stroke-width="1.2"/>
<circle cx="209.6" cy="870.7" r="2.85" fill="#fff" stroke="#111" stroke-width="1.2"/>
<circle cx="209.6" cy="1033.6" r="2.85" fill="#fff" stroke="#111" stroke-width="1.2"/>
<circle cx="209.5" cy="1110.0" r="2.7" fill="#000"/>
<line x1="214.4" y1="1075.6" x2="214.4" y2="1171.3" stroke="#111" stroke-width="1.45"/>
<rect x="213.00" y="1082.6" width="2.8" height="43.90" fill="#1adb00" stroke="#111" stroke-width="0.95"/>
<circle cx="214.4" cy="1089.7" r="4.55" fill="#1eff00" stroke="#0a0a0a" stroke-width="1.42"/>
<rect x="213.00" y="1082.6" width="2.8" height="43.90" fill="none" stroke="#111" stroke-opacity="0.85" stroke-width="0.95"/>
<circle cx="227.9" cy="937.5" r="4.55" fill="#ffafaf" stroke="#0a0a0a" stroke-width="1.42"/>
<rect x="245.00" y="906.7" width="2.8" height="48.70" fill="#db9696" stroke="#111" stroke-width="0.95"/>
<circle cx="246.4" cy="935.7" r="4.55" fill="#ffafaf" stroke="#0a0a0a" stroke-width="1.42"/>
<rect x="245.00" y="906.7" width="2.8" height="48.70" fill="none" stroke="#111" stroke-opacity="0.85" stroke-width="0.95"/>
<circle cx="248.7" cy="975.8" r="4.55" fill="#b8b3ff" stroke="#222" stroke-width="1.42"/>
<rect x="263.70" y="882.0" width="2.8" height="41.00" fill="#db9696" stroke="#111" stroke-width="0.95"/>
<circle cx="265.1" cy="905.0" r="4.55" fill="#ffafaf" stroke="#0a0a0a" stroke-width="1.42"/>
<rect x="263.70" y="882.0" width="2.8" height="41.00" fill="none" stroke="#111" stroke-opacity="0.85" stroke-width="0.95"/>
<circle cx="267.5" cy="924.4" r="4.55" fill="#b8b3ff" stroke="#222" stroke-width="1.42"/>
<rect x="282.10" y="850.3" width="2.8" height="79.90" fill="#db9696" stroke="#111" stroke-width="0.95"/>
<circle cx="283.5" cy="889.8" r="4.55" fill="#ffafaf" stroke="#0a0a0a" stroke-width="1.42"/>
<rect x="282.10" y="850.3" width="2.8" height="79.90" fill="none" stroke="#111" stroke-opacity="0.85" stroke-width="0.95"/>
<rect x="300.50" y="850.3" width="2.8" height="17.90" fill="#db9696" stroke="#111" stroke-width="0.95"/>
<circle cx="301.9" cy="868.5" r="4.55" fill="#ffafaf" stroke="#0a0a0a" stroke-width="1.42"/>
<rect x="300.50" y="850.3" width="2.8" height="17.90" fill="none" stroke="#111" stroke-opacity="0.85" stroke-width="0.95"/>
<line x1="306.8" y1="1091.2" x2="306.8" y2="1171.9" stroke="#111" stroke-width="1.45"/>
<rect x="305.40" y="1113.4" width="2.8" height="39.20" fill="#1adb00" stroke="#111" stroke-width="0.95"/>
<circle cx="306.8" cy="1130.9" r="4.55" fill="#1eff00" stroke="#0a0a0a" stroke-width="1.42"/>
<rect x="305.40" y="1113.4" width="2.8" height="39.20" fill="none" stroke="#111" stroke-opacity="0.85" stroke-width="0.95"/>
<circle cx="320.0" cy="866.7" r="4.55" fill="#ffafaf" stroke="#0a0a0a" stroke-width="1.42"/>
<rect x="338.70" y="856.5" width="2.8" height="3.50" fill="#db9696" stroke="#111" stroke-width="0.95"/>
<circle cx="340.1" cy="858.3" r="4.55" fill="#ffafaf" stroke="#0a0a0a" stroke-width="1.42"/>
<rect x="338.70" y="856.5" width="2.8" height="3.50" fill="none" stroke="#111" stroke-opacity="0.85" stroke-width="0.95"/>
<rect x="357.90" y="835.7" width="2.8" height="32.90" fill="#db9696" stroke="#111" stroke-width="0.95"/>
<circle cx="359.3" cy="852.3" r="4.55" fill="#ffafaf" stroke="#0a0a0a" stroke-width="1.42"/>
<rect x="357.90" y="835.7" width="2.8" height="32.90" fill="none" stroke="#111" stroke-opacity="0.85" stroke-width="0.95"/>
<rect x="377.50" y="834.8" width="2.8" height="33.80" fill="#db9696" stroke="#111" stroke-width="0.95"/>
<circle cx="378.9" cy="851.6" r="4.55" fill="#ffafaf" stroke="#0a0a0a" stroke-width="1.42"/>
<rect x="377.50" y="834.8" width="2.8" height="33.80" fill="none" stroke="#111" stroke-opacity="0.85" stroke-width="0.95"/>
<circle cx="394.0" cy="834.4" r="4.55" fill="#ffafaf" stroke="#0a0a0a" stroke-width="1.42"/>
<line x1="408.6" y1="760.9" x2="408.6" y2="777.2" stroke="#111" stroke-width="1.45"/>
<rect x="407.20" y="777.2" width="2.8" height="57.10" fill="#db9696" stroke="#111" stroke-width="0.95"/>
<circle cx="408.6" cy="828.4" r="4.55" fill="#ffafaf" stroke="#0a0a0a" stroke-width="1.42"/>
<rect x="407.20" y="777.2" width="2.8" height="57.10" fill="none" stroke="#111" stroke-opacity="0.85" stroke-width="0.95"/>
<line x1="427.0" y1="716.0" x2="427.0" y2="859.0" stroke="#111" stroke-width="1.45"/>
<rect x="425.60" y="763.8" width="2.8" height="84.00" fill="#9e6c6c" stroke="#111" stroke-width="0.95"/>
<circle cx="427.0" cy="814.9" r="4.55" fill="#ffafaf" stroke="#0a0a0a" stroke-width="1.42"/>
<rect x="425.60" y="763.8" width="2.8" height="84.00" fill="none" stroke="#111" stroke-opacity="0.85" stroke-width="0.95"/>
<line x1="429.3" y1="777.5" x2="429.3" y2="889.9" stroke="#111" stroke-width="1.45"/>
<rect x="427.90" y="822.5" width="2.8" height="36.90" fill="#9e9adb" stroke="#111" stroke-width="0.95"/>
<circle cx="429.3" cy="839.6" r="4.55" fill="#b8b3ff" stroke="#222" stroke-width="1.42"/>
<rect x="427.90" y="822.5" width="2.8" height="36.90" fill="none" stroke="#111" stroke-opacity="0.85" stroke-width="0.95"/>
<circle cx="431.5" cy="933.0" r="4.55" fill="#1eff00" stroke="#0a0a0a" stroke-width="1.42"/>
<circle cx="445.0" cy="799.3" r="4.55" fill="#ffafaf" stroke="#0a0a0a" stroke-width="1.42"/>
<line x1="463.5" y1="667.0" x2="463.5" y2="939.6" stroke="#111" stroke-width="1.45"/>
<rect x="462.10" y="720.7" width="2.8" height="168.00" fill="#db9696" stroke="#111" stroke-width="0.95"/>
<circle cx="463.5" cy="773.9" r="4.55" fill="#ffafaf" stroke="#0a0a0a" stroke-width="1.42"/>
<rect x="462.10" y="720.7" width="2.8" height="168.00" fill="none" stroke="#111" stroke-opacity="0.85" stroke-width="0.95"/>
<line x1="482.0" y1="746.7" x2="482.0" y2="930.0" stroke="#111" stroke-width="1.45"/>
<rect x="480.60" y="748.9" width="2.8" height="138.10" fill="#9e6c6c" stroke="#111" stroke-width="0.95"/>
<circle cx="482.0" cy="757.2" r="4.55" fill="#ffafaf" stroke="#0a0a0a" stroke-width="1.42"/>
<rect x="480.60" y="748.9" width="2.8" height="138.10" fill="none" stroke="#111" stroke-opacity="0.85" stroke-width="0.95"/>
<rect x="502.60" y="968.5" width="2.8" height="7.00" fill="#9e9adb" stroke="#111" stroke-width="0.95"/>
<circle cx="504.0" cy="971.7" r="4.55" fill="#b8b3ff" stroke="#222" stroke-width="1.42"/>
<rect x="502.60" y="968.5" width="2.8" height="7.00" fill="none" stroke="#111" stroke-opacity="0.85" stroke-width="0.95"/>
<circle cx="506.3" cy="1049.8" r="4.55" fill="#1eff00" stroke="#0a0a0a" stroke-width="1.42"/>
<line x1="522.4" y1="917.5" x2="522.4" y2="938.7" stroke="#111" stroke-width="1.45"/>
<rect x="521.00" y="920.7" width="2.8" height="18.00" fill="#9e9adb" stroke="#111" stroke-width="0.95"/>
<circle cx="522.4" cy="929.2" r="4.55" fill="#b8b3ff" stroke="#222" stroke-width="1.42"/>
<rect x="521.00" y="920.7" width="2.8" height="18.00" fill="none" stroke="#111" stroke-opacity="0.85" stroke-width="0.95"/>
<circle cx="521.9" cy="965.4" r="2.85" fill="#fff" stroke="#111" stroke-width="1.2"/>
<line x1="524.8" y1="943.0" x2="524.8" y2="1030.7" stroke="#111" stroke-width="1.45"/>
<rect x="523.40" y="966.2" width="2.8" height="64.50" fill="#1adb00" stroke="#111" stroke-width="0.95"/>
<circle cx="524.8" cy="983.2" r="4.55" fill="#1eff00" stroke="#0a0a0a" stroke-width="1.42"/>
<rect x="523.40" y="966.2" width="2.8" height="64.50" fill="none" stroke="#111" stroke-opacity="0.85" stroke-width="0.95"/>
<rect x="525.70" y="997.2" width="2.8" height="28.70" fill="#db00b6" stroke="#111" stroke-width="0.95"/>
<circle cx="527.1" cy="1008.4" r="4.55" fill="#ff00d4" stroke="#0a0a0a" stroke-width="1.42"/>
<rect x="525.70" y="997.2" width="2.8" height="28.70" fill="none" stroke="#111" stroke-opacity="0.85" stroke-width="0.95"/>
<line x1="529.1" y1="1035.0" x2="529.1" y2="1055.4" stroke="#111" stroke-width="1.45"/>
<rect x="527.70" y="1035.0" width="2.8" height="12.00" fill="#db7400" stroke="#111" stroke-width="0.95"/>
<circle cx="529.1" cy="1041.1" r="4.55" fill="#ff8700" stroke="#0a0a0a" stroke-width="1.42"/>
<rect x="527.70" y="1035.0" width="2.8" height="12.00" fill="none" stroke="#111" stroke-opacity="0.85" stroke-width="0.95"/>
<line x1="532.2" y1="1020.4" x2="532.2" y2="1045.9" stroke="#111" stroke-width="1.45"/>
<rect x="530.80" y="1023.5" width="2.8" height="22.40" fill="#dbd700" stroke="#111" stroke-width="0.95"/>
<circle cx="532.2" cy="1028.3" r="4.55" fill="#fffa00" stroke="#0a0a0a" stroke-width="1.42"/>
<rect x="530.80" y="1023.5" width="2.8" height="22.40" fill="none" stroke="#111" stroke-opacity="0.85" stroke-width="0.95"/>
<circle cx="528.7" cy="1068.2" r="2.85" fill="#fff" stroke="#111" stroke-width="1.2"/>
<circle cx="534.6" cy="1068.5" r="4.55" fill="#00f0ff" stroke="#0a0a0a" stroke-width="1.42"/>
<circle cx="540.7" cy="928.7" r="4.55" fill="#b8b3ff" stroke="#222" stroke-width="1.42"/>
<line x1="561.3" y1="1074.1" x2="561.3" y2="1125.7" stroke="#111" stroke-width="1.45"/>
<rect x="559.90" y="1097.4" width="2.8" height="12.60" fill="#1adb00" stroke="#111" stroke-width="0.95"/>
<circle cx="561.3" cy="1110.4" r="4.55" fill="#1eff00" stroke="#0a0a0a" stroke-width="1.42"/>
<rect x="559.90" y="1097.4" width="2.8" height="12.60" fill="none" stroke="#111" stroke-opacity="0.85" stroke-width="0.95"/>
<line x1="579.3" y1="1022.0" x2="579.3" y2="1122.0" stroke="#111" stroke-width="1.45"/>
<rect x="577.90" y="1044.8" width="2.8" height="58.70" fill="#1adb00" stroke="#111" stroke-width="0.95"/>
<circle cx="579.3" cy="1077.0" r="4.55" fill="#1eff00" stroke="#0a0a0a" stroke-width="1.42"/>
<rect x="577.90" y="1044.8" width="2.8" height="58.70" fill="none" stroke="#111" stroke-opacity="0.85" stroke-width="0.95"/>
<line x1="597.8" y1="1035.0" x2="597.8" y2="1061.0" stroke="#111" stroke-width="1.45"/>
<rect x="596.40" y="1037.2" width="2.8" height="21.10" fill="#1adb00" stroke="#111" stroke-width="0.95"/>
<circle cx="597.8" cy="1045.9" r="4.55" fill="#1eff00" stroke="#0a0a0a" stroke-width="1.42"/>
<rect x="596.40" y="1037.2" width="2.8" height="21.10" fill="none" stroke="#111" stroke-opacity="0.85" stroke-width="0.95"/>
<line x1="600.4" y1="1062.2" x2="600.4" y2="1091.5" stroke="#111" stroke-width="1.45"/>
<rect x="599.00" y="1062.2" width="2.8" height="16.30" fill="#db00b6" stroke="#111" stroke-width="0.95"/>
<circle cx="600.4" cy="1071.3" r="4.55" fill="#ff00d4" stroke="#0a0a0a" stroke-width="1.42"/>
<rect x="599.00" y="1062.2" width="2.8" height="16.30" fill="none" stroke="#111" stroke-opacity="0.85" stroke-width="0.95"/>
<line x1="616.3" y1="1000.9" x2="616.3" y2="1047.0" stroke="#111" stroke-width="1.45"/>
<rect x="614.90" y="1005.2" width="2.8" height="33.50" fill="#1adb00" stroke="#111" stroke-width="0.95"/>
<circle cx="616.3" cy="1030.0" r="4.55" fill="#1eff00" stroke="#0a0a0a" stroke-width="1.42"/>
<rect x="614.90" y="1005.2" width="2.8" height="33.50" fill="none" stroke="#111" stroke-opacity="0.85" stroke-width="0.95"/>
<circle cx="635.9" cy="1009.6" r="4.55" fill="#1eff00" stroke="#0a0a0a" stroke-width="1.42"/>
<circle cx="654.1" cy="910.4" r="4.55" fill="#1eff00" stroke="#0a0a0a" stroke-width="1.42"/>
<circle cx="675.0" cy="995.2" r="4.55" fill="#ff00d4" stroke="#0a0a0a" stroke-width="1.42"/>
<text x="-0.6" y="18.9" style="font-size:24px;font-weight:bold">A</text>
<text x="1.6" y="651.4" style="font-size:23px;font-weight:bold">B</text>
<text transform="translate(27.3,311.1) rotate(-90)" text-anchor="middle" style="font-size:18.3px">2C value (pg)</text>
<text transform="translate(27.4,939.4) rotate(-90)" text-anchor="middle" style="font-size:18px">1Cx value (pg)</text>
<text class="xl" transform="translate(91.80,1263.60) rotate(-30)" text-anchor="end" xml:space="preserve"><tspan class="up">A. </tspan><tspan>rupestre</tspan><tspan class="up"> (</tspan><tspan>x</tspan><tspan class="up">=7)</tspan></text>
<text class="xl" transform="translate(109.94,1263.54) rotate(-30)" text-anchor="end" xml:space="preserve"><tspan class="up">A. </tspan><tspan>rupestre</tspan><tspan class="up"> (</tspan><tspan>x</tspan><tspan class="up">=8)</tspan></text>
<text class="xl" transform="translate(128.68,1263.49) rotate(-30)" text-anchor="end" xml:space="preserve"><tspan class="up">A. </tspan><tspan>pseudostamineum</tspan></text>
<text class="xl" transform="translate(146.82,1263.43) rotate(-30)" text-anchor="end" xml:space="preserve"><tspan class="up">A. </tspan><tspan>tenuiflorum</tspan></text>
<text class="xl" transform="translate(165.26,1263.38) rotate(-30)" text-anchor="end" xml:space="preserve"><tspan class="up">A. </tspan><tspan>aetnense</tspan></text>
<text class="xl" transform="translate(183.70,1263.32) rotate(-30)" text-anchor="end" xml:space="preserve"><tspan class="up">A. </tspan><tspan>garbarii</tspan></text>
<text class="xl" transform="translate(202.14,1263.26) rotate(-30)" text-anchor="end" xml:space="preserve"><tspan class="up">A. </tspan><tspan>valdesianum</tspan></text>
<text class="xl" transform="translate(221.38,1263.21) rotate(-30)" text-anchor="end" xml:space="preserve"><tspan class="up">A. </tspan><tspan>flavum</tspan><tspan class="up"> subsp. </tspan><tspan>flavum</tspan></text>
<text class="xl" transform="translate(240.03,1263.15) rotate(-30)" text-anchor="end" xml:space="preserve"><tspan class="up">A. </tspan><tspan>guicciardii</tspan></text>
<text class="xl" transform="translate(258.27,1263.09) rotate(-30)" text-anchor="end" xml:space="preserve"><tspan class="up">A. </tspan><tspan>paniculatum</tspan></text>
<text class="xl" transform="translate(276.91,1263.04) rotate(-30)" text-anchor="end" xml:space="preserve"><tspan class="up">A. </tspan><tspan>marginatum</tspan></text>
<text class="xl" transform="translate(294.55,1262.98) rotate(-30)" text-anchor="end" xml:space="preserve"><tspan class="up">A. </tspan><tspan>praescissum</tspan></text>
<text class="xl" transform="translate(313.79,1262.93) rotate(-30)" text-anchor="end" xml:space="preserve"><tspan class="up">A. </tspan><tspan>flavum</tspan><tspan class="up"> subsp. </tspan><tspan>tauricum</tspan></text>
<text class="xl" transform="translate(332.23,1262.87) rotate(-30)" text-anchor="end" xml:space="preserve"><tspan class="up">A. </tspan><tspan>orestis</tspan></text>
<text class="xl" transform="translate(350.67,1262.81) rotate(-30)" text-anchor="end" xml:space="preserve"><tspan class="up">A. </tspan><tspan>fuscum</tspan></text>
<text class="xl" transform="translate(369.11,1262.76) rotate(-30)" text-anchor="end" xml:space="preserve"><tspan class="up">A. </tspan><tspan>daninianum</tspan></text>
<text class="xl" transform="translate(386.95,1262.70) rotate(-30)" text-anchor="end" xml:space="preserve"><tspan class="up">A. </tspan><tspan>rhodopeum</tspan></text>
<text class="xl" transform="translate(404.09,1262.64) rotate(-30)" text-anchor="end" xml:space="preserve"><tspan class="up">A. </tspan><tspan>dinaricum</tspan></text>
<text class="xl" transform="translate(419.63,1262.59) rotate(-30)" text-anchor="end" xml:space="preserve"><tspan class="up">A. </tspan><tspan>kunthianum</tspan></text>
<text class="xl" transform="translate(438.07,1262.53) rotate(-30)" text-anchor="end" xml:space="preserve"><tspan class="up">A. </tspan><tspan>carinatum</tspan><tspan class="up"> subsp. </tspan><tspan>carinatum</tspan></text>
<text class="xl" transform="translate(457.81,1262.48) rotate(-30)" text-anchor="end" xml:space="preserve"><tspan class="up">A. </tspan><tspan>stamatiadae</tspan></text>
<text class="xl" transform="translate(476.25,1262.42) rotate(-30)" text-anchor="end" xml:space="preserve"><tspan class="up">A. </tspan><tspan>carinatum</tspan><tspan class="up"> subsp. </tspan><tspan>pulchellum</tspan></text>
<text class="xl" transform="translate(494.69,1262.36) rotate(-30)" text-anchor="end" xml:space="preserve"><tspan class="up">A. </tspan><tspan>karsianum</tspan></text>
<text class="xl" transform="translate(513.13,1262.31) rotate(-30)" text-anchor="end" xml:space="preserve"><tspan class="up">A. </tspan><tspan>melanantherum</tspan></text>
<text class="xl" transform="translate(531.57,1262.25) rotate(-30)" text-anchor="end" xml:space="preserve"><tspan class="up">A. </tspan><tspan>oleraceum</tspan></text>
<text class="xl" transform="translate(550.02,1262.19) rotate(-30)" text-anchor="end" xml:space="preserve"><tspan class="up">A. </tspan><tspan>goumenissanum</tspan></text>
<text class="xl" transform="translate(569.26,1262.14) rotate(-30)" text-anchor="end" xml:space="preserve"><tspan class="up">A. </tspan><tspan>pallens</tspan></text>
<text class="xl" transform="translate(587.80,1262.08) rotate(-30)" text-anchor="end" xml:space="preserve"><tspan class="up">A. </tspan><tspan>&quot;dentiferum-pallens&quot;</tspan></text>
<text class="xl" transform="translate(606.14,1262.03) rotate(-30)" text-anchor="end" xml:space="preserve"><tspan class="up">A. </tspan><tspan>dentiferum</tspan></text>
<text class="xl" transform="translate(624.38,1261.97) rotate(-30)" text-anchor="end" xml:space="preserve"><tspan class="up">A. </tspan><tspan>oporinanthum</tspan></text>
<text class="xl" transform="translate(642.72,1261.91) rotate(-30)" text-anchor="end" xml:space="preserve"><tspan class="up">A. </tspan><tspan>telmatum</tspan></text>
<text class="xl" transform="translate(661.56,1261.86) rotate(-30)" text-anchor="end" xml:space="preserve"><tspan class="up">A. </tspan><tspan>hermoneum</tspan></text>
<text class="xl" transform="translate(679.80,1261.80) rotate(-30)" text-anchor="end" xml:space="preserve"><tspan class="up">A. </tspan><tspan>pseudotelmatum</tspan></text>
<text x="370.2" y="1357.4" style="font-size:18px">Ploidy level</text>
<rect x="371.0" y="1370.2" width="8.9" height="8.9" fill="#ffafaf"/>
<text x="389.7" y="1381.6" style="font-size:16px">2<tspan style="font-style:italic">x</tspan></text>
<rect x="417.4" y="1370.2" width="8.9" height="8.9" fill="#b8b3ff"/>
<text x="436.1" y="1381.6" style="font-size:16px">3<tspan style="font-style:italic">x</tspan></text>
<rect x="463.9" y="1370.2" width="8.9" height="8.9" fill="#1eff00"/>
<text x="482.6" y="1381.6" style="font-size:16px">4<tspan style="font-style:italic">x</tspan></text>
<rect x="510.1" y="1370.2" width="8.9" height="8.9" fill="#ff00d4"/>
<text x="528.8" y="1381.6" style="font-size:16px">5<tspan style="font-style:italic">x</tspan></text>
<rect x="556.4" y="1370.2" width="8.9" height="8.9" fill="#ff8700"/>
<text x="575.1" y="1381.6" style="font-size:16px">6<tspan style="font-style:italic">x</tspan></text>
<rect x="602.7" y="1370.2" width="8.9" height="8.9" fill="#fffa00"/>
<text x="621.4" y="1381.6" style="font-size:16px">7<tspan style="font-style:italic">x</tspan></text>
<rect x="649.2" y="1370.2" width="8.9" height="8.9" fill="#00f0ff"/>
<text x="667.9" y="1381.6" style="font-size:16px">8<tspan style="font-style:italic">x</tspan></text>
</svg>
</body></html>
